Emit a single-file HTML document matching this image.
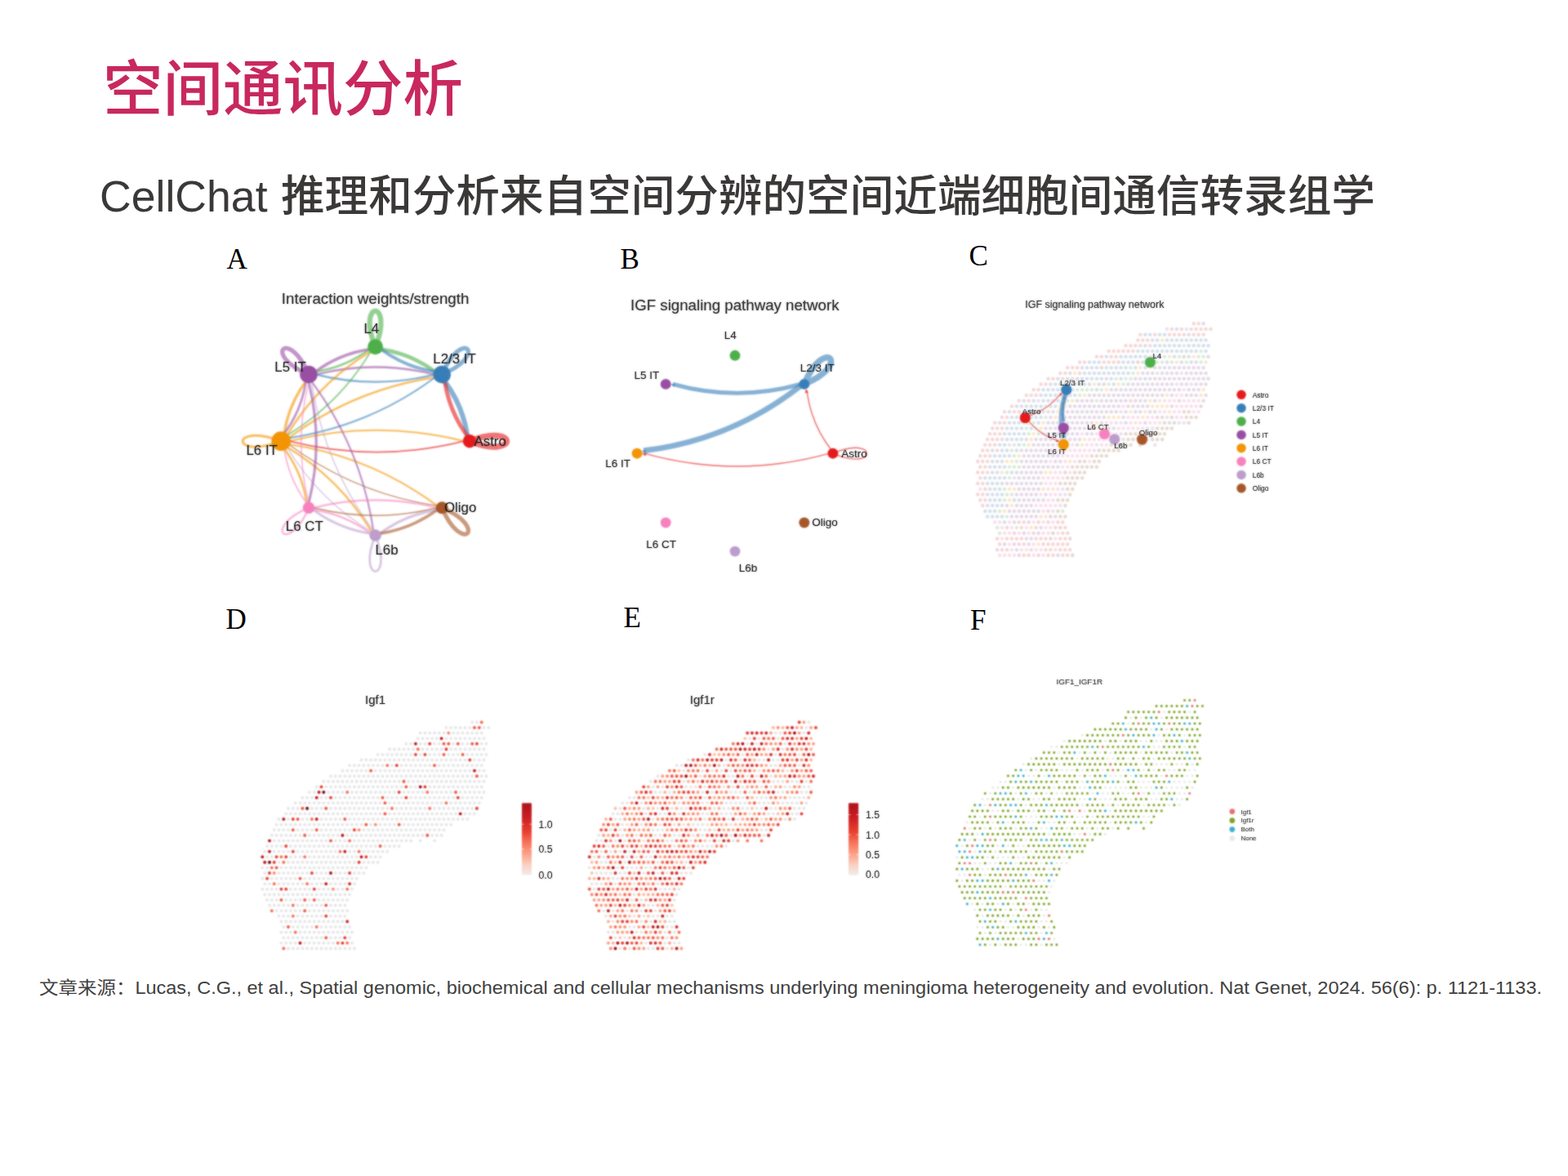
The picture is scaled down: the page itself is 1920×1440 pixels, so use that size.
<!DOCTYPE html>
<html lang="zh-CN"><head><meta charset="utf-8"><title>空间通讯分析</title>
<style>
html,body{margin:0;padding:0;background:#fff}
body{width:1920px;height:1440px;position:relative;overflow:hidden;font-family:"Liberation Sans",sans-serif}
h1,h2,footer,figure{margin:0;padding:0;font-weight:normal}
.abs{position:absolute;left:0;top:0;display:block}
.sr{position:absolute;width:1px;height:1px;margin:-1px;overflow:hidden;clip:rect(0 0 0 0);white-space:nowrap}
svg text{font-family:"Liberation Sans",sans-serif}
svg .im{filter:blur(1px)}
svg text.pl{font-family:"Liberation Serif",serif;font-size:35px;fill:#000}
</style></head>
<body>
<main>
<h1 class="t" aria-label="空间通讯分析"><span class="sr">空间通讯分析</span><svg class="abs" width="1920" height="180" viewBox="0 0 1920 180" aria-hidden="true"><text x="126" y="135" font-size="73.5" font-weight="500" fill="#c8285f" style="font-family:'Liberation Sans','Noto Sans CJK SC',sans-serif">空间通讯分析</text></svg></h1><h2 class="t" aria-label="CellChat 推理和分析来自空间分辨的空间近端细胞间通信转录组学"><span class="sr">CellChat 推理和分析来自空间分辨的空间近端细胞间通信转录组学</span><svg class="abs" style="top:180px" width="1920" height="110" viewBox="0 0 1920 110" aria-hidden="true"><g fill="#3b3838" transform="translate(0,-180)"><text y="259" font-size="53.6" font-weight="500" fill="#3b3838" style="font-family:'Liberation Sans','Noto Sans CJK SC',sans-serif"><tspan x="122">CellChat</tspan><tspan x="344">推理和分析来自空间分辨的空间近端细胞间通信转录组学</tspan></text></g></svg></h2>
<section aria-label="figures">
<figure aria-label="Interaction weights/strength"><svg class="abs" style="left:260px;top:290px" width="450" height="430" viewBox="260 290 450 430"><text class="pl" x="277.5" y="328.6">A</text><defs><g id="pA"><g fill="none" stroke-opacity=".48" stroke-linecap="round"><path d="M575 540.2C635.7 564.2 635.7 516.2 575 540.2" stroke="#E41A1C" stroke-width="7"/><path d="M541.2 458.6C599.7 434.1 565.7 400.1 541.2 458.6" stroke="#377EB8" stroke-width="5"/><path d="M459.6 424.8C483.6 366.1 435.6 366.1 459.6 424.8" stroke="#4DAF4A" stroke-width="6"/><path d="M378 458.6C353.5 400.1 319.5 434.1 378 458.6" stroke="#984EA3" stroke-width="5"/><path d="M344.2 540.2C281.5 516.2 281.5 564.2 344.2 540.2" stroke="#F29403" stroke-width="3"/><path d="M378 621.8C319.5 646.3 353.5 680.3 378 621.8" stroke="#F781BF" stroke-width="2.2"/><path d="M459.6 655.6C435.6 714.3 483.6 714.3 459.6 655.6" stroke="#BC9DCC" stroke-width="2.5"/><path d="M541.2 621.8C565.7 680.3 599.7 646.3 541.2 621.8" stroke="#A65628" stroke-width="5"/><path d="M544.6 466.9Q566.9 497 572.4 533.9" stroke="#377EB8" stroke-width="5.8"/><path d="M572.4 533.9Q550.1 503.9 544.6 466.9" stroke="#E41A1C" stroke-width="4.8"/><path d="M466.8 427.8Q503.3 433.2 532.9 455.2" stroke="#4DAF4A" stroke-width="4.4"/><path d="M532.9 455.2Q496.4 449.7 466.8 427.8" stroke="#377EB8" stroke-width="3.8"/><path d="M386.3 455.2Q415.9 433.2 452.4 427.8" stroke="#984EA3" stroke-width="3.5"/><path d="M452.4 427.8Q422.8 449.7 386.3 455.2" stroke="#4DAF4A" stroke-width="2.6"/><path d="M387 458.6Q459.6 440.5 532.2 458.6" stroke="#984EA3" stroke-width="2.37"/><path d="M532.2 458.6Q459.6 476.7 387 458.6" stroke="#377EB8" stroke-width="2.14"/><path d="M348 531.1Q353.2 495.7 374.6 466.9" stroke="#F29403" stroke-width="3.29"/><path d="M374.6 466.9Q369.3 502.3 348 531.1" stroke="#984EA3" stroke-width="2.6"/><path d="M351.2 533.2Q389.8 468.9 454.1 430.3" stroke="#F29403" stroke-width="2.48"/><path d="M454.1 430.3Q415.5 494.6 351.2 533.2" stroke="#4DAF4A" stroke-width="1.68"/><path d="M353.3 536.4Q433.8 476.8 532.9 462" stroke="#F29403" stroke-width="2.37"/><path d="M532.9 462Q452.4 521.7 353.3 536.4" stroke="#377EB8" stroke-width="2.02"/><path d="M354.1 540.2Q461.1 513.4 568.2 540.2" stroke="#F29403" stroke-width="2.02"/><path d="M568.2 540.2Q461.1 567 354.1 540.2" stroke="#E41A1C" stroke-width="1.79"/><path d="M353.3 544Q453.8 558.9 535.5 619.4" stroke="#F29403" stroke-width="2.14"/><path d="M535.5 619.4Q435 604.5 353.3 544" stroke="#A65628" stroke-width="1.22"/><path d="M351.2 547.2Q416.3 586.3 455.4 651.4" stroke="#F29403" stroke-width="2.37"/><path d="M455.4 651.4Q390.3 612.3 351.2 547.2" stroke="#BC9DCC" stroke-width="1.22"/><path d="M348 549.3Q370.2 579.3 375.7 616.3" stroke="#F29403" stroke-width="2.6"/><path d="M375.7 616.3Q353.5 586.3 348 549.3" stroke="#F781BF" stroke-width="1.68"/><path d="M378 467.6Q396.5 541.7 378 615.9" stroke="#984EA3" stroke-width="3"/><path d="M378 615.9Q359.5 541.7 378 467.6" stroke="#F781BF" stroke-width="1.45"/><path d="M381.4 466.9Q442.3 549 457.3 650.1" stroke="#984EA3" stroke-width="2.02"/><path d="M457.3 650.1Q396.5 568 381.4 466.9" stroke="#BC9DCC" stroke-width="1.22"/><path d="M383.9 621.8Q459.5 602.9 535 621.8" stroke="#F781BF" stroke-width="2.14"/><path d="M535 621.8Q459.5 640.7 383.9 621.8" stroke="#A65628" stroke-width="1.68"/><path d="M383.5 624.1Q422.5 629.9 454.1 653.3" stroke="#F781BF" stroke-width="2.14"/><path d="M454.1 653.3Q415.1 647.5 383.5 624.1" stroke="#BC9DCC" stroke-width="2.83"/><path d="M465.1 653.3Q496.6 630 535.5 624.2" stroke="#BC9DCC" stroke-width="3"/><path d="M535.5 624.2Q503.9 647.5 465.1 653.3" stroke="#A65628" stroke-width="3.5"/></g><circle cx="575" cy="540.2" r="8" fill="#E41A1C"/><circle cx="541.2" cy="458.6" r="10.6" fill="#377EB8"/><circle cx="459.6" cy="424.8" r="9.2" fill="#4DAF4A"/><circle cx="378" cy="458.6" r="10.6" fill="#984EA3"/><circle cx="344.2" cy="540.2" r="11.6" fill="#F29403"/><circle cx="378" cy="621.8" r="7" fill="#F781BF"/><circle cx="459.6" cy="655.6" r="7" fill="#BC9DCC"/><circle cx="541.2" cy="621.8" r="7.3" fill="#A65628"/></g><g id="tA"><text x="344.8" y="372.3" font-size="18.8" text-anchor="start" fill="#222">Interaction weights/strength</text><text x="445.5" y="408.2" font-size="16.85" text-anchor="start" fill="#1a1a1a">L4</text><text x="530.3" y="445.3" font-size="16.85" text-anchor="start" fill="#1a1a1a">L2/3 IT</text><text x="580.5" y="545.8" font-size="16.85" text-anchor="start" fill="#1a1a1a">Astro</text><text x="544" y="626.7" font-size="16.85" text-anchor="start" fill="#1a1a1a">Oligo</text><text x="459.5" y="678.6" font-size="16.85" text-anchor="start" fill="#1a1a1a">L6b</text><text x="349.8" y="649.8" font-size="16.85" text-anchor="start" fill="#1a1a1a">L6 CT</text><text x="301.5" y="557.4" font-size="16.85" text-anchor="start" fill="#1a1a1a">L6 IT</text><text x="336.3" y="454.7" font-size="16.85" text-anchor="start" fill="#1a1a1a">L5 IT</text></g></defs><use href="#pA" class="im"/><use href="#pA" opacity=".5"/><use href="#tA" class="im" opacity=".6"/><use href="#tA" opacity=".8"/></svg></figure>
<figure aria-label="IGF signaling pathway network (circle)"><svg class="abs" style="left:720px;top:290px" width="400" height="430" viewBox="720 290 400 430"><text class="pl" x="759.5" y="328.6">B</text><defs><g id="pB"><g fill="none" stroke-opacity=".48" stroke-linecap="butt"><path d="M984.8 470.4C1044.4 446.1 1009.1 410.8 984.8 470.4" stroke="#377EB8" stroke-width="7.4"/><path d="M1019.9 555.2C1075.2 579.2 1075.2 531.2 1019.9 555.2" stroke="#E41A1C" stroke-width="1.4"/><path d="M980.4 470.4Q902.2 492.3 823.9 470.4" stroke="#377EB8" stroke-width="4.8"/><path d="M980.8 472.1Q895.6 538.9 788.1 551.9" stroke="#377EB8" stroke-width="6.6"/><path d="M1018.2 551.2Q993 519 988.1 478.5" stroke="#E41A1C" stroke-width="1.4"/><path d="M1015.6 555.2Q902.2 586.9 788.8 555.2" stroke="#E41A1C" stroke-width="1.4"/></g><path d="M821.1 470.4L826.6 469.9L825.5 473.6Z" fill="#377EB8" fill-opacity="0.6"/><path d="M785.6 552.9L790.4 550.4L790.9 554.2Z" fill="#377EB8" fill-opacity="0.6"/><path d="M987 475.9L989.6 480.7L985.7 481.2Z" fill="#E41A1C" fill-opacity="0.6"/><path d="M786 555.2L791.4 554.7L790.4 558.4Z" fill="#E41A1C" fill-opacity="0.6"/><circle cx="1019.9" cy="555.2" r="6.2" fill="#E41A1C"/><circle cx="984.8" cy="470.4" r="6.2" fill="#377EB8"/><circle cx="900" cy="435.3" r="6.2" fill="#4DAF4A"/><circle cx="815.2" cy="470.4" r="6.2" fill="#984EA3"/><circle cx="780.1" cy="555.2" r="6.2" fill="#F29403"/><circle cx="815.2" cy="640" r="6.2" fill="#F781BF"/><circle cx="900" cy="675.1" r="6.2" fill="#BC9DCC"/><circle cx="984.8" cy="640" r="6.2" fill="#A65628"/></g><g id="tB"><text x="772" y="379.6" font-size="18.7" text-anchor="start" fill="#222">IGF signaling pathway network</text><text x="886.8" y="415.4" font-size="13.5" text-anchor="start" fill="#1a1a1a">L4</text><text x="979.8" y="455" font-size="13.5" text-anchor="start" fill="#1a1a1a">L2/3 IT</text><text x="776.4" y="464" font-size="13.5" text-anchor="start" fill="#1a1a1a">L5 IT</text><text x="741.2" y="571.5" font-size="13.5" text-anchor="start" fill="#1a1a1a">L6 IT</text><text x="1030.2" y="560" font-size="13.5" text-anchor="start" fill="#1a1a1a">Astro</text><text x="994.2" y="644.3" font-size="13.5" text-anchor="start" fill="#1a1a1a">Oligo</text><text x="791.3" y="670.6" font-size="13.5" text-anchor="start" fill="#1a1a1a">L6 CT</text><text x="904.7" y="700.4" font-size="13.5" text-anchor="start" fill="#1a1a1a">L6b</text></g></defs><use href="#pB" class="im"/><use href="#pB" opacity=".5"/><use href="#tB" class="im" opacity=".6"/><use href="#tB" opacity=".8"/></svg></figure>
<figure aria-label="IGF signaling pathway network (spatial)"><svg class="abs" style="left:1160px;top:290px" width="460" height="430" viewBox="1160 290 460 430"><text class="pl" x="1186.5" y="324.9">C</text><defs><g id="pC"><g fill="none" stroke-linecap="round" stroke-width="4.1"><path d="M1461.7 396.2h0m5.9 0h0m-32.7 6.8h0m11.9 0h0m11.9 0h0m5.9 0h0m6 0h0m5.9 0h0m6 0h0m-86.2 6.7h0m17.9 0h0m17.8 0h0m5.9 0h0m6 0h0m5.9 0h0m11.9 0h0m5.9 0h0m6 0h0m-80.2 6.8h0m5.9 0h0m5.9 0h0m-26.7 6.7h0m6 0h0m5.9 0h0m5.9 0h0m11.9 0h0m-50.5 6.8h0m6 0h0m5.9 0h0m5.9 0h0m6 0h0m5.9 0h0m-44.5 6.7h0m5.9 0h0m11.9 0h0m5.9 0h0m-44.5 6.8h0m5.9 0h0m23.8 0h0m5.9 0h0m6 0h0m-56.5 6.7h0m6 0h0m5.9 0h0m-20.8 6.8h0m6 0h0m17.8 0h0m-38.6 6.8h0m5.9 0h0m11.9 0h0m11.9 0h0m148.5 0h0m-187.1 6.7h0m5.9 0h0m-14.8 6.8h0m5.9 0h0m-14.8 6.7h0m5.9 0h0m5.9 0h0m-20.8 6.8h0m11.9 0h0m124.8 0h0m-145.6 6.7h0m-8.9 6.8h0m11.9 0h0m5.9 0h0m35.7 0h0m-56.5 6.7h0m6 0h0m-14.9 6.8h0m11.9 0h0m106.9 0h0m-121.7 6.7h0m5.9 0h0m5.9 0h0m-14.8 6.8h0m5.9 0h0m6 0h0m-14.9 6.8h0m6 0h0m5.9 0h0m5.9 0h0m-20.7 6.7h0m5.9 0h0m5.9 0h0m-14.8 6.8h0m5.9 0h0m11.9 0h0m-20.8 6.7h0m6 0h0m5.9 0h0m-14.9 6.8h0m6 0h0m5.9 0h0m-8.9 6.7h0m6 0h0m-9 6.8h0m6 0h0m5.9 0h0m-8.9 6.7h0m-3 6.8h0m6 0h0m3 6.8h0m-9 6.7h0m6 0h0m-3 6.8h0m6 0h0m-3 6.7h0m80.2 6.8h0m-35.7 13.5h0m6 0h0m17.8 0h0m11.9 0h0m11.9 0h0m5.9 0h0m-68.3 6.7h0m17.8 0h0m17.8 0h0m23.8 0h0m11.9 0h0m-62.4 6.8h0m23.8 0h0m35.6 0h0m5.9 0h0m-86.1 6.7h0m11.9 0h0m5.9 0h0m6 0h0m5.9 0h0m17.8 0h0m6 0h0m5.9 0h0m17.8 0h0m6 0h0m-80.2 6.8h0m23.7 0h0m6 0h0m23.7 0h0m6 0h0m5.9 0h0m6 0h0m5.9 0h0m5.9 0h0m-80.2 6.8h0m6 0h0m29.7 0h0m17.8 0h0m5.9 0h0m11.9 0h0m6 0h0m5.9 0h0m-56.4 6.7h0m5.9 0h0m11.9 0h0m11.9 0h0m5.9 0h0m11.9 0h0m5.9 0h0" stroke="#F6D5D5"/><path d="M1440.9 403h0m-38.6 6.7h0m5.9 0h0m11.9 0h0m5.9 0h0m29.7 0h0m-44.5 6.8h0m5.9 0h0m11.9 0h0m5.9 0h0m6 0h0m5.9 0h0m6 0h0m5.9 0h0m5.9 0h0m6 0h0m5.9 0h0m-74.2 6.7h0m11.9 0h0m5.9 0h0m5.9 0h0m6 0h0m5.9 0h0m6 0h0m11.8 0h0m6 0h0m5.9 0h0m6 0h0m5.9 0h0m-86.1 6.8h0m5.9 0h0m5.9 0h0m6 0h0m5.9 0h0m6 0h0m5.9 0h0m5.9 0h0m6 0h0m5.9 0h0m6 0h0m5.9 0h0m5.9 0h0m11.9 0h0m-121.7 6.7h0m17.8 0h0m5.9 0h0m6 0h0m5.9 0h0m5.9 0h0m6 0h0m11.9 0h0m5.9 0h0m17.8 0h0m17.8 0h0m-121.7 6.8h0m5.9 0h0m5.9 0h0m29.7 0h0m6 0h0m5.9 0h0m11.9 0h0m5.9 0h0m6 0h0m17.8 0h0m17.8 0h0m11.9 0h0m-133.6 6.7h0m5.9 0h0m5.9 0h0m6 0h0m11.9 0h0m5.9 0h0m5.9 0h0m6 0h0m5.9 0h0m11.9 0h0m11.9 0h0m-92.1 6.8h0m17.8 0h0m6 0h0m5.9 0h0m5.9 0h0m6 0h0m5.9 0h0m6 0h0m5.9 0h0m5.9 0h0m6 0h0m-86.1 6.8h0m11.8 0h0m11.9 0h0m6 0h0m5.9 0h0m5.9 0h0m6 0h0m5.9 0h0m11.9 0h0m11.9 0h0m29.7 0h0m-115.9 6.7h0m6 0h0m5.9 0h0m6 0h0m5.9 0h0m5.9 0h0m6 0h0m5.9 0h0m6 0h0m11.8 0h0m17.9 0h0m-86.2 6.8h0m6 0h0m5.9 0h0m6 0h0m5.9 0h0m5.9 0h0m6 0h0m29.7 0h0m-68.3 6.7h0m5.9 0h0m5.9 0h0m6 0h0m5.9 0h0m17.8 0h0m-62.3 6.8h0m11.9 0h0m11.8 0h0m6 0h0m11.9 0h0m-50.5 6.7h0m11.9 0h0m5.9 0h0m5.9 0h0m6 0h0m11.8 0h0m6 0h0m-56.4 6.8h0m17.8 0h0m5.9 0h0m11.9 0h0m5.9 0h0m11.9 0h0m11.9 0h0m-62.4 6.7h0m6 0h0m5.9 0h0m6 0h0m5.9 0h0m5.9 0h0m6 0h0m-50.5 6.8h0m11.9 0h0m5.9 0h0m5.9 0h0m23.8 0h0m23.8 0h0m29.7 0h0m53.4 0h0m53.5 0h0m-199 6.7h0m5.9 0h0m6 0h0m5.9 0h0m11.9 0h0m-32.7 6.8h0m6 0h0m5.9 0h0m5.9 0h0m6 0h0m-20.8 6.8h0m5.9 0h0m6 0h0m5.9 0h0m-26.7 6.7h0m5.9 0h0m17.8 0h0m-32.6 6.8h0m11.8 0h0m6 0h0m11.9 0h0m-26.8 6.7h0m6 0h0m5.9 0h0m6 0h0m-20.8 6.8h0m5.9 0h0m5.9 0h0m-14.8 6.7h0m5.9 0h0m6 0h0m5.9 0h0m-14.8 6.8h0m5.9 0h0m17.8 0h0m-32.6 6.7h0m5.9 0h0m5.9 0h0m6 0h0m5.9 0h0m-20.8 6.8h0m6 0h0m5.9 0h0m5.9 0h0m-14.8 6.8h0m5.9 0h0m6 0h0m-14.9 6.7h0m6 0h0m5.9 0h0m5.9 0h0m-14.8 6.8h0m5.9 0h0m6 0h0m17.8 0h0m-32.7 6.7h0m6 0h0m5.9 0h0m5.9 0h0m-20.7 6.8h0m5.9 0h0m5.9 0h0m53.5 0h0m-62.4 6.7h0m6 0h0m5.9 0h0m5.9 0h0m3 6.8h0" stroke="#D4DFEA"/><path d="M1470.6 430h0m-44.6 6.7h0m17.9 0h0m23.7 0h0m6 0h0m-56.5 6.8h0m6 0h0m11.8 0h0m17.9 0h0m17.8 0h0m-86.1 6.7h0m2.9 6.8h0m29.7 0h0m-50.5 6.8h0m11.9 0h0m6 0h0m-26.8 6.7h0m17.8 0h0m-56.4 6.8h0m6 0h0m5.9 0h0m5.9 0h0m11.9 0h0m-44.5 6.7h0m17.8 0h0m-14.9 6.8h0m35.7 0h0m-62.4 6.7h0m-14.8 6.8h0m14.8 6.7h0m-26.7 6.8h0m11.9 0h0m-8.9 6.7h0m11.8 0h0m-8.9 6.8h0m11.9 0h0m-29.7 13.5h0m11.9 0h0m124.7 0h0m-139.6 6.8h0m3 6.7h0m3 6.8h0m-8.9 6.7h0m5.9 0h0m5.9 0h0m-14.8 6.8h0m3 6.7h0m-6 13.6h0m3 6.7h0m5.9 0h0m-8.9 6.8h0m-5.9 13.5h0m77.2 0h0m-68.3 6.7h0m-11.9 13.5h0m23.8 0h0m-20.8 6.8h0" stroke="#D8ECD7"/><path d="M1473.6 396.2h0m5.9 40.5h0m-14.9 6.8h0m-50.4 6.7h0m5.9 0h0m5.9 0h0m6 0h0m5.9 0h0m6 0h0m5.9 0h0m5.9 0h0m6 0h0m5.9 0h0m6 0h0m-74.3 6.8h0m5.9 0h0m6 0h0m11.9 0h0m5.9 0h0m5.9 0h0m6 0h0m11.9 0h0m5.9 0h0m5.9 0h0m6 0h0m5.9 0h0m-121.7 6.8h0m35.6 0h0m5.9 0h0m11.9 0h0m6 0h0m5.9 0h0m5.9 0h0m6 0h0m5.9 0h0m6 0h0m5.9 0h0m5.9 0h0m11.9 0h0m6 0h0m5.9 0h0m-98 6.7h0m5.9 0h0m6 0h0m5.9 0h0m5.9 0h0m6 0h0m5.9 0h0m6 0h0m5.9 0h0m5.9 0h0m11.9 0h0m6 0h0m11.8 0h0m6 0h0m5.9 0h0m-115.8 6.8h0m5.9 0h0m6 0h0m5.9 0h0m6 0h0m5.9 0h0m5.9 0h0m6 0h0m5.9 0h0m6 0h0m5.9 0h0m5.9 0h0m6 0h0m5.9 0h0m6 0h0m11.8 0h0m6 0h0m5.9 0h0m-157.4 6.7h0m23.8 0h0m5.9 0h0m5.9 0h0m6 0h0m5.9 0h0m6 0h0m5.9 0h0m5.9 0h0m6 0h0m5.9 0h0m6 0h0m5.9 0h0m5.9 0h0m6 0h0m5.9 0h0m6 0h0m11.8 0h0m17.9 0h0m5.9 0h0m5.9 0h0m11.9 0h0m-187.1 6.8h0m29.7 0h0m6 0h0m5.9 0h0m5.9 0h0m11.9 0h0m6 0h0m5.9 0h0m5.9 0h0m6 0h0m5.9 0h0m11.9 0h0m5.9 0h0m6 0h0m11.9 0h0m29.7 0h0m29.7 0h0m-222.8 6.7h0m59.4 0h0m5.9 0h0m6 0h0m5.9 0h0m6 0h0m5.9 0h0m5.9 0h0m6 0h0m5.9 0h0m6 0h0m5.9 0h0m11.9 0h0m5.9 0h0m6 0h0m5.9 0h0m5.9 0h0m29.7 0h0m-127.7 6.8h0m6 0h0m5.9 0h0m6 0h0m5.9 0h0m5.9 0h0m6 0h0m5.9 0h0m6 0h0m5.9 0h0m5.9 0h0m11.9 0h0m11.9 0h0m5.9 0h0m11.9 0h0m6 0h0m-127.8 6.7h0m11.9 0h0m6 0h0m5.9 0h0m5.9 0h0m6 0h0m5.9 0h0m6 0h0m5.9 0h0m5.9 0h0m6 0h0m23.7 0h0m41.6 0h0m-133.6 6.8h0m5.9 0h0m11.9 0h0m5.9 0h0m6 0h0m5.9 0h0m11.9 0h0m17.8 0h0m53.5 0h0m-121.8 6.7h0m5.9 0h0m6 0h0m5.9 0h0m6 0h0m5.9 0h0m5.9 0h0m6 0h0m5.9 0h0m6 0h0m23.7 0h0m6 0h0m-86.2 6.8h0m6 0h0m11.9 0h0m5.9 0h0m5.9 0h0m6 0h0m5.9 0h0m11.9 0h0m5.9 0h0m-80.1 6.8h0m11.8 0h0m6 0h0m5.9 0h0m5.9 0h0m6 0h0m5.9 0h0m6 0h0m5.9 0h0m5.9 0h0m6 0h0m-56.4 6.7h0m5.9 0h0m5.9 0h0m6 0h0m5.9 0h0m6 0h0m23.7 0h0m-68.3 6.8h0m6 0h0m5.9 0h0m5.9 0h0m6 0h0m5.9 0h0m5.9 0h0m-32.6 6.7h0m5.9 0h0m6 0h0m5.9 0h0m5.9 0h0m6 0h0m5.9 0h0m6 0h0m-44.6 6.8h0m6 0h0m5.9 0h0m5.9 0h0m6 0h0m5.9 0h0m11.9 0h0m5.9 0h0m-44.5 6.7h0m5.9 0h0m6 0h0m5.9 0h0m5.9 0h0m6 0h0m5.9 0h0m6 0h0m-50.5 6.8h0m5.9 0h0m6 0h0m5.9 0h0m5.9 0h0m6 0h0m-26.8 6.7h0m6 0h0m5.9 0h0m6 0h0m5.9 0h0m-38.6 6.8h0m5.9 0h0m6 0h0m5.9 0h0m6 0h0m5.9 0h0m5.9 0h0m6 0h0m-26.8 6.8h0m6 0h0m5.9 0h0m6 0h0m5.9 0h0m-26.7 6.7h0m5.9 0h0m6 0h0m5.9 0h0m5.9 0h0m11.9 0h0m-32.7 6.8h0m6 0h0m5.9 0h0m6 0h0m5.9 0h0m5.9 0h0m-44.5 6.7h0m11.9 0h0m5.9 0h0m6 0h0m5.9 0h0m-26.7 6.8h0m5.9 0h0m5.9 0h0m6 0h0m5.9 0h0m6 0h0m-26.8 6.7h0m6 0h0m5.9 0h0m6 0h0m5.9 0h0m5.9 0h0m23.8 0h0m-50.5 6.8h0m17.8 0h0m14.9 6.7h0m-20.8 6.8h0m17.8 0h0m-14.8 6.7h0m5.9 0h0m-32.7 6.8h0m11.9 0h0m17.8 0h0m-38.6 6.8h0m23.8 0h0m2.9 6.7h0m47.6 0h0" stroke="#E4D8E7"/><path d="M1423.1 416.5h0m8.9 20.2h0m29.7 0h0m-20.8 6.8h0m35.6 0h0m-80.2 6.7h0m11.9 0h0m-92.1 6.8h0m77.3 0h0m-53.5 13.5h0m29.7 0h0m-14.8 6.8h0m118.8 0h0m-145.6 6.7h0m101 0h0m41.6 0h0m-169.3 6.8h0m11.9 0h0m95 0h0m11.9 0h0m-121.8 6.7h0m6 0h0m106.9 0h0m5.9 0h0m6 0h0m5.9 0h0m-133.6 6.8h0m89.1 0h0m17.8 0h0m29.7 0h0m-139.6 6.7h0m65.3 0h0m6 0h0m5.9 0h0m29.7 0h0m-139.6 6.8h0m17.8 0h0m65.4 0h0m47.5 0h0m-115.8 6.7h0m71.2 0h0m6 0h0m-86.1 6.8h0m-3 6.8h0m65.3 0h0m-68.3 6.7h0m65.4 0h0m-20.8 6.8h0m-56.5 6.7h0m-14.8 6.8h0m5.9 0h0m71.3 0h0m-83.2 13.5h0m53.5 0h0m5.9 0h0m-50.4 20.3h0m5.9 0h0m35.6 0h0m11.9 0h0m-53.4 13.5h0m2.9 6.7h0m-8.9 6.8h0m44.6 6.7h0m-11.9 13.5h0m8.9 20.3h0" stroke="#FBE7C9"/><path d="M1408.2 436.7h0m41.6 40.6h0m-8.9 6.7h0m5.9 0h0m-20.8 6.8h0m6 0h0m5.9 0h0m11.9 0h0m5.9 0h0m6 0h0m5.9 0h0m-92.1 6.7h0m65.4 0h0m5.9 0h0m6 0h0m5.9 0h0m5.9 0h0m-44.5 6.8h0m5.9 0h0m11.9 0h0m6 0h0m17.8 0h0m5.9 0h0m-86.1 6.7h0m5.9 0h0m6 0h0m11.8 0h0m6 0h0m35.6 0h0m-92 6.8h0m5.9 0h0m11.9 0h0m11.9 0h0m11.8 0h0m11.9 0h0m6 0h0m5.9 0h0m-80.2 6.7h0m29.7 0h0m5.9 0h0m6 0h0m5.9 0h0m6 0h0m5.9 0h0m-74.2 6.8h0m17.8 0h0m5.9 0h0m6 0h0m5.9 0h0m5.9 0h0m35.7 0h0m-68.3 6.8h0m5.9 0h0m5.9 0h0m6 0h0m5.9 0h0m-56.4 6.7h0m5.9 0h0m6 0h0m17.8 0h0m5.9 0h0m11.9 0h0m6 0h0m-62.4 6.8h0m5.9 0h0m11.9 0h0m5.9 0h0m6 0h0m5.9 0h0m6 0h0m-32.7 6.7h0m5.9 0h0m6 0h0m5.9 0h0m6 0h0m5.9 0h0m-44.6 6.8h0m17.9 0h0m11.8 0h0m17.9 0h0m-32.7 6.7h0m5.9 0h0m-14.8 6.8h0m5.9 0h0m11.9 0h0m-32.7 6.7h0m6 0h0m5.9 0h0m6 0h0m5.9 0h0m-20.8 6.8h0m5.9 0h0m6 0h0m-92.1 6.8h0m83.2 0h0m11.9 0h0m-20.8 6.7h0m11.8 0h0m6 0h0m-8.9 6.8h0m5.9 0h0m-20.8 6.7h0m6 0h0m5.9 0h0m5.9 0h0m6 0h0m-14.9 6.8h0m3 6.7h0m-62.4 6.8h0m6 0h0m11.9 0h0m29.7 0h0m11.8 0h0m11.9 0h0m-62.4 6.7h0m11.9 0h0m17.9 0h0m23.7 0h0m5.9 0h0m-56.4 6.8h0m6 0h0m11.8 0h0m11.9 0h0m17.8 0h0m6 0h0m11.9 0h0m-68.4 6.7h0m65.4 0h0m-56.4 6.8h0m29.7 0h0m-26.8 6.8h0m11.9 0h0m6 0h0m11.8 0h0m6 0h0m17.8 0h0m-68.3 6.7h0m5.9 0h0m6 0h0m5.9 0h0m23.8 0h0m11.8 0h0" stroke="#FBDFED"/><path d="M1429 403h0m23.8 0h0m-3 20.2h0m-3 33.8h0m-5.9 13.5h0m17.8 0h0m-187.1 20.3h0m101 13.5h0m56.4 6.7h0m11.9 0h0m-74.3 6.8h0m77.3 0h0m5.9 0h0m-44.6 6.7h0m6 0h0m-121.8 6.8h0m83.2 0h0m-3 6.8h0m5.9 0h0m29.7 0h0m-169.2 6.7h0m106.9 0h0m71.3 0h0m-74.3 6.8h0m-98 33.7h0m59.4 13.6h0m-3 6.7h0m6 0h0m-6 13.5h0m-8.9 6.8h0" stroke="#EAE1F0"/><path d="M1449.8 436.7h0m-80.2 6.8h0m23.8 0h0m-44.6 6.7h0m3 20.3h0m118.8 27h0m-20.8 6.8h0m5.9 0h0m-32.6 6.7h0m11.8 0h0m17.9 0h0m5.9 0h0m5.9 0h0m-38.6 6.8h0m11.9 0h0m17.8 0h0m-38.6 6.7h0m6 0h0m5.9 0h0m5.9 0h0m-56.4 6.8h0m6 0h0m5.9 0h0m5.9 0h0m11.9 0h0m6 0h0m5.9 0h0m5.9 0h0m-62.3 6.8h0m17.8 0h0m5.9 0h0m6 0h0m5.9 0h0m11.9 0h0m5.9 0h0m6 0h0m-62.4 6.7h0m5.9 0h0m6 0h0m11.9 0h0m11.8 0h0m-50.5 6.8h0m6 0h0m5.9 0h0m6 0h0m5.9 0h0m-32.7 6.7h0m6 0h0m5.9 0h0m6 0h0m-32.7 6.8h0m5.9 0h0m11.9 0h0m5.9 0h0m-32.6 6.7h0m5.9 0h0m6 0h0m5.9 0h0m5.9 0h0m6 0h0m-38.6 6.8h0m11.8 0h0m6 0h0m5.9 0h0m-20.8 6.7h0m6 0h0m5.9 0h0m6 0h0m-26.8 6.8h0m6 0h0m5.9 0h0m5.9 0h0m-8.9 6.8h0m6 0h0m-3 6.7h0m-14.8 6.8h0m5.9 0h0m5.9 0h0m-2.9 6.7h0m-8.9 6.8h0m-9 6.7h0m11.9 0h0m6 0h0m-6 13.5h0m-8.9 6.8h0m-3 6.7h0m23.8 0h0m3 20.3h0" stroke="#E5D8CF"/></g><g fill="none" stroke-opacity=".5"><path d="M1305.6 480.2Q1295.2 507.8 1302.7 536.3" stroke="#377EB8" stroke-width="5.6"/><path d="M1305.6 480.2Q1298.5 497.8 1302.9 516.2" stroke="#377EB8" stroke-width="3"/><path d="M1257.8 509.9Q1283 502.4 1299.3 481.6" stroke="#E41A1C" stroke-width="1.2"/><path d="M1257.8 513.3Q1272.6 532.6 1295.8 539.7" stroke="#E41A1C" stroke-width="1.2"/></g><path d="M1300.8 480.6L1299.5 484.8L1297.1 482.9Z" fill="#E41A1C" fill-opacity="0.65"/><path d="M1297.4 540.8L1292.9 541.1L1293.8 538.1Z" fill="#E41A1C" fill-opacity="0.65"/><circle cx="1408.4" cy="443.6" r="6.4" fill="#4DAF4A"/><circle cx="1305.8" cy="477.2" r="6.4" fill="#377EB8"/><circle cx="1255.3" cy="511.6" r="6.4" fill="#E41A1C"/><circle cx="1302.3" cy="544.2" r="6.4" fill="#F29403"/><circle cx="1302.3" cy="524.1" r="6.4" fill="#984EA3"/><circle cx="1352.4" cy="531.4" r="6.4" fill="#F781BF"/><circle cx="1364.7" cy="537.8" r="6.4" fill="#BC9DCC"/><circle cx="1398.5" cy="538.1" r="6.4" fill="#A65628"/><circle cx="1520" cy="483.3" r="5.5" fill="#E41A1C"/><circle cx="1520" cy="499.7" r="5.5" fill="#377EB8"/><circle cx="1520" cy="516" r="5.5" fill="#4DAF4A"/><circle cx="1520" cy="532.4" r="5.5" fill="#984EA3"/><circle cx="1520" cy="548.7" r="5.5" fill="#F29403"/><circle cx="1520" cy="565" r="5.5" fill="#F781BF"/><circle cx="1520" cy="581.4" r="5.5" fill="#BC9DCC"/><circle cx="1520" cy="597.8" r="5.5" fill="#A65628"/></g><g id="tC"><text x="1255.3" y="376.9" font-size="12.45" text-anchor="start" fill="#222">IGF signaling pathway network</text><text x="1411.4" y="438.7" font-size="9.7" text-anchor="start" fill="#1a1a1a">L4</text><text x="1298.1" y="472.2" font-size="9.7" text-anchor="start" fill="#1a1a1a">L2/3 IT</text><text x="1251.8" y="506.6" font-size="9.7" text-anchor="start" fill="#1a1a1a">Astro</text><text x="1283.1" y="535.5" font-size="9.7" text-anchor="start" fill="#1a1a1a">L5 IT</text><text x="1283.1" y="555.6" font-size="9.7" text-anchor="start" fill="#1a1a1a">L6 IT</text><text x="1331.2" y="526.2" font-size="9.7" text-anchor="start" fill="#1a1a1a">L6 CT</text><text x="1364.2" y="548.9" font-size="9.7" text-anchor="start" fill="#1a1a1a">L6b</text><text x="1394.7" y="533.4" font-size="9.7" text-anchor="start" fill="#1a1a1a">Oligo</text><text x="1533.8" y="486.5" font-size="8.35" text-anchor="start" fill="#222">Astro</text><text x="1533.8" y="502.9" font-size="8.35" text-anchor="start" fill="#222">L2/3 IT</text><text x="1533.8" y="519.2" font-size="8.35" text-anchor="start" fill="#222">L4</text><text x="1533.8" y="535.6" font-size="8.35" text-anchor="start" fill="#222">L5 IT</text><text x="1533.8" y="551.9" font-size="8.35" text-anchor="start" fill="#222">L6 IT</text><text x="1533.8" y="568.2" font-size="8.35" text-anchor="start" fill="#222">L6 CT</text><text x="1533.8" y="584.6" font-size="8.35" text-anchor="start" fill="#222">L6b</text><text x="1533.8" y="601" font-size="8.35" text-anchor="start" fill="#222">Oligo</text></g></defs><use href="#pC" class="im"/><use href="#pC" opacity=".5"/><use href="#tC" class="im" opacity=".6"/><use href="#tC" opacity=".8"/></svg></figure>
<figure aria-label="Igf1 expression"><svg class="abs" style="left:260px;top:730px" width="440" height="460" viewBox="260 730 440 460"><text class="pl" x="276.5" y="770.2">D</text><defs><g id="pD"><g fill="none" stroke-linecap="round" stroke-width="3.6"><path d="M578.2 884.4h0m5.7 0h0m-37.5 6.6h0m5.8 0h0m5.8 0h0m5.7 0h0m5.8 0h0m5.8 0h0m17.3 0h0m5.8 0h0m-83.7 6.6h0m5.7 0h0m5.8 0h0m5.8 0h0m5.8 0h0m5.7 0h0m11.6 0h0m5.7 0h0m5.8 0h0m5.8 0h0m5.8 0h0m5.7 0h0m5.8 0h0m-77.9 6.6h0m5.7 0h0m5.8 0h0m5.8 0h0m5.8 0h0m11.5 0h0m5.8 0h0m5.8 0h0m5.7 0h0m5.8 0h0m5.8 0h0m5.7 0h0m5.8 0h0m5.8 0h0m-95.3 6.6h0m5.8 0h0m11.6 0h0m5.7 0h0m11.6 0h0m5.8 0h0m17.3 0h0m11.5 0h0m5.8 0h0m17.3 0h0m5.8 0h0m-118.4 6.6h0m5.8 0h0m5.8 0h0m5.8 0h0m5.7 0h0m5.8 0h0m11.5 0h0m5.8 0h0m5.8 0h0m5.8 0h0m5.7 0h0m11.6 0h0m5.8 0h0m5.7 0h0m5.8 0h0m5.8 0h0m5.7 0h0m5.8 0h0m5.8 0h0m-129.9 6.6h0m5.8 0h0m5.8 0h0m5.7 0h0m5.8 0h0m5.8 0h0m5.7 0h0m5.8 0h0m11.6 0h0m11.5 0h0m5.8 0h0m5.8 0h0m11.5 0h0m5.8 0h0m5.7 0h0m11.6 0h0m5.8 0h0m5.7 0h0m5.8 0h0m5.8 0h0m-153 6.6h0m5.8 0h0m5.8 0h0m5.7 0h0m5.8 0h0m5.8 0h0m5.7 0h0m5.8 0h0m5.8 0h0m5.8 0h0m5.7 0h0m5.8 0h0m5.8 0h0m5.7 0h0m5.8 0h0m5.8 0h0m5.8 0h0m5.7 0h0m5.8 0h0m5.8 0h0m5.8 0h0m5.7 0h0m5.8 0h0m11.5 0h0m5.8 0h0m5.8 0h0m-164.5 6.6h0m5.8 0h0m5.7 0h0m5.8 0h0m5.8 0h0m5.7 0h0m5.8 0h0m5.8 0h0m11.5 0h0m11.6 0h0m5.7 0h0m5.8 0h0m5.8 0h0m5.8 0h0m5.7 0h0m5.8 0h0m11.6 0h0m5.7 0h0m5.8 0h0m5.8 0h0m5.7 0h0m5.8 0h0m5.8 0h0m5.8 0h0m5.7 0h0m5.8 0h0m-170.3 6.6h0m5.8 0h0m5.8 0h0m5.7 0h0m5.8 0h0m5.8 0h0m11.5 0h0m5.8 0h0m5.8 0h0m5.7 0h0m5.8 0h0m5.8 0h0m5.8 0h0m5.7 0h0m5.8 0h0m5.8 0h0m5.7 0h0m5.8 0h0m5.8 0h0m5.8 0h0m5.7 0h0m5.8 0h0m5.8 0h0m5.8 0h0m5.7 0h0m5.8 0h0m5.8 0h0m11.5 0h0m5.8 0h0m-187.6 6.6h0m5.8 0h0m5.7 0h0m5.8 0h0m5.8 0h0m5.8 0h0m5.7 0h0m5.8 0h0m5.8 0h0m5.7 0h0m5.8 0h0m5.8 0h0m5.8 0h0m5.7 0h0m5.8 0h0m5.8 0h0m5.7 0h0m5.8 0h0m5.8 0h0m5.8 0h0m5.7 0h0m5.8 0h0m5.8 0h0m5.8 0h0m5.7 0h0m5.8 0h0m5.8 0h0m5.7 0h0m5.8 0h0m5.8 0h0m5.8 0h0m11.5 0h0m5.8 0h0m-199.2 6.5h0m5.8 0h0m5.8 0h0m5.8 0h0m5.7 0h0m5.8 0h0m5.8 0h0m5.7 0h0m5.8 0h0m5.8 0h0m5.8 0h0m5.7 0h0m5.8 0h0m5.8 0h0m5.7 0h0m5.8 0h0m5.8 0h0m11.5 0h0m5.8 0h0m5.8 0h0m5.7 0h0m5.8 0h0m5.8 0h0m5.8 0h0m5.7 0h0m5.8 0h0m5.8 0h0m5.8 0h0m5.7 0h0m5.8 0h0m5.8 0h0m5.7 0h0m5.8 0h0m5.8 0h0m-204.9 6.6h0m11.5 0h0m5.8 0h0m5.8 0h0m5.7 0h0m5.8 0h0m5.8 0h0m5.8 0h0m5.7 0h0m5.8 0h0m5.8 0h0m5.7 0h0m5.8 0h0m5.8 0h0m5.8 0h0m5.7 0h0m5.8 0h0m5.8 0h0m11.5 0h0m5.8 0h0m17.3 0h0m5.8 0h0m5.8 0h0m5.7 0h0m5.8 0h0m5.8 0h0m5.7 0h0m5.8 0h0m5.8 0h0m5.8 0h0m5.7 0h0m5.8 0h0m-210.7 6.6h0m5.8 0h0m17.3 0h0m5.8 0h0m5.8 0h0m5.7 0h0m11.6 0h0m5.7 0h0m5.8 0h0m5.8 0h0m5.8 0h0m5.7 0h0m5.8 0h0m5.8 0h0m5.7 0h0m5.8 0h0m11.6 0h0m5.7 0h0m5.8 0h0m5.8 0h0m5.7 0h0m11.6 0h0m5.8 0h0m5.7 0h0m5.8 0h0m5.8 0h0m11.5 0h0m5.8 0h0m5.8 0h0m5.7 0h0m5.8 0h0m5.8 0h0m-222.2 6.6h0m5.7 0h0m5.8 0h0m11.6 0h0m5.7 0h0m11.6 0h0m5.7 0h0m5.8 0h0m5.8 0h0m5.8 0h0m5.7 0h0m5.8 0h0m5.8 0h0m5.7 0h0m5.8 0h0m11.6 0h0m5.7 0h0m5.8 0h0m5.8 0h0m11.5 0h0m5.8 0h0m5.8 0h0m5.7 0h0m5.8 0h0m5.8 0h0m5.8 0h0m5.7 0h0m5.8 0h0m5.8 0h0m11.5 0h0m5.8 0h0m5.8 0h0m5.7 0h0m5.8 0h0m-228 6.6h0m5.8 0h0m5.7 0h0m5.8 0h0m5.8 0h0m5.8 0h0m5.7 0h0m5.8 0h0m5.8 0h0m5.8 0h0m5.7 0h0m5.8 0h0m5.8 0h0m5.7 0h0m5.8 0h0m5.8 0h0m5.8 0h0m5.7 0h0m5.8 0h0m11.5 0h0m5.8 0h0m5.8 0h0m5.8 0h0m5.7 0h0m5.8 0h0m5.8 0h0m5.7 0h0m5.8 0h0m5.8 0h0m5.8 0h0m5.7 0h0m11.6 0h0m5.8 0h0m5.7 0h0m5.8 0h0m5.8 0h0m5.7 0h0m5.8 0h0m-233.8 6.6h0m5.8 0h0m5.8 0h0m17.3 0h0m5.8 0h0m5.8 0h0m11.5 0h0m5.8 0h0m5.7 0h0m5.8 0h0m5.8 0h0m5.8 0h0m5.7 0h0m5.8 0h0m5.8 0h0m5.7 0h0m5.8 0h0m5.8 0h0m5.8 0h0m11.5 0h0m5.8 0h0m5.7 0h0m5.8 0h0m5.8 0h0m5.8 0h0m5.7 0h0m11.6 0h0m5.8 0h0m5.7 0h0m5.8 0h0m5.8 0h0m5.7 0h0m5.8 0h0m5.8 0h0m5.8 0h0m-228 6.6h0m5.7 0h0m5.8 0h0m5.8 0h0m5.7 0h0m5.8 0h0m5.8 0h0m5.8 0h0m5.7 0h0m5.8 0h0m5.8 0h0m5.8 0h0m5.7 0h0m5.8 0h0m5.8 0h0m5.7 0h0m5.8 0h0m5.8 0h0m5.8 0h0m5.7 0h0m5.8 0h0m11.5 0h0m5.8 0h0m5.8 0h0m5.8 0h0m5.7 0h0m5.8 0h0m5.8 0h0m5.7 0h0m5.8 0h0m5.8 0h0m5.8 0h0m5.7 0h0m5.8 0h0m5.8 0h0m5.8 0h0m11.5 0h0m5.8 0h0m5.7 0h0m-239.5 6.6h0m11.5 0h0m17.4 0h0m5.7 0h0m17.4 0h0m5.7 0h0m5.8 0h0m5.8 0h0m5.7 0h0m11.6 0h0m5.8 0h0m5.7 0h0m5.8 0h0m5.8 0h0m5.7 0h0m5.8 0h0m5.8 0h0m5.8 0h0m5.7 0h0m5.8 0h0m5.8 0h0m5.7 0h0m5.8 0h0m5.8 0h0m5.8 0h0m5.7 0h0m5.8 0h0m5.8 0h0m5.8 0h0m5.7 0h0m5.8 0h0m5.8 0h0m5.7 0h0m5.8 0h0m5.8 0h0m-233.8 6.6h0m5.8 0h0m5.8 0h0m5.7 0h0m5.8 0h0m5.8 0h0m5.7 0h0m5.8 0h0m5.8 0h0m5.8 0h0m5.7 0h0m5.8 0h0m5.8 0h0m5.8 0h0m5.7 0h0m5.8 0h0m5.8 0h0m5.7 0h0m5.8 0h0m11.6 0h0m11.5 0h0m5.8 0h0m5.7 0h0m5.8 0h0m11.6 0h0m5.7 0h0m5.8 0h0m5.8 0h0m5.7 0h0m5.8 0h0m5.8 0h0m5.8 0h0m5.7 0h0m5.8 0h0m5.8 0h0m-216.5 6.6h0m5.8 0h0m5.8 0h0m5.7 0h0m11.6 0h0m5.8 0h0m5.7 0h0m5.8 0h0m11.6 0h0m5.7 0h0m5.8 0h0m5.8 0h0m5.7 0h0m5.8 0h0m5.8 0h0m17.3 0h0m5.8 0h0m5.7 0h0m5.8 0h0m5.8 0h0m5.8 0h0m5.7 0h0m5.8 0h0m5.8 0h0m5.7 0h0m5.8 0h0m5.8 0h0m5.8 0h0m5.7 0h0m5.8 0h0m5.8 0h0m5.8 0h0m5.7 0h0m-210.7 6.6h0m5.8 0h0m5.8 0h0m5.8 0h0m5.7 0h0m5.8 0h0m5.8 0h0m11.5 0h0m5.8 0h0m5.8 0h0m5.7 0h0m5.8 0h0m5.8 0h0m5.8 0h0m11.5 0h0m5.8 0h0m5.7 0h0m5.8 0h0m5.8 0h0m5.8 0h0m5.7 0h0m5.8 0h0m5.8 0h0m5.7 0h0m5.8 0h0m5.8 0h0m5.8 0h0m5.7 0h0m5.8 0h0m5.8 0h0m5.7 0h0m11.6 0h0m5.8 0h0m5.7 0h0m-204.9 6.6h0m5.8 0h0m5.8 0h0m5.7 0h0m5.8 0h0m5.8 0h0m5.8 0h0m5.7 0h0m5.8 0h0m5.8 0h0m5.8 0h0m5.7 0h0m11.6 0h0m5.7 0h0m5.8 0h0m11.6 0h0m5.7 0h0m5.8 0h0m5.8 0h0m5.7 0h0m5.8 0h0m5.8 0h0m5.8 0h0m5.7 0h0m5.8 0h0m5.8 0h0m5.7 0h0m5.8 0h0m11.6 0h0m17.3 0h0m-204.9 6.6h0m5.7 0h0m5.8 0h0m5.8 0h0m11.5 0h0m5.8 0h0m5.8 0h0m5.7 0h0m5.8 0h0m5.8 0h0m5.8 0h0m5.7 0h0m5.8 0h0m5.8 0h0m5.8 0h0m5.7 0h0m5.8 0h0m5.8 0h0m5.7 0h0m5.8 0h0m5.8 0h0m5.8 0h0m5.7 0h0m11.6 0h0m5.7 0h0m5.8 0h0m5.8 0h0m-164.5 6.6h0m11.5 0h0m5.8 0h0m5.8 0h0m5.7 0h0m11.6 0h0m5.8 0h0m5.7 0h0m5.8 0h0m5.8 0h0m5.8 0h0m5.7 0h0m5.8 0h0m5.8 0h0m17.3 0h0m5.8 0h0m11.5 0h0m5.8 0h0m5.7 0h0m5.8 0h0m5.8 0h0m5.8 0h0m-147.2 6.6h0m5.7 0h0m23.1 0h0m5.8 0h0m5.8 0h0m11.5 0h0m5.8 0h0m5.8 0h0m5.7 0h0m5.8 0h0m5.8 0h0m5.8 0h0m5.7 0h0m5.8 0h0m5.8 0h0m5.7 0h0m17.4 0h0m5.7 0h0m5.8 0h0m-124.1 6.6h0m11.5 0h0m5.8 0h0m5.8 0h0m5.8 0h0m5.7 0h0m5.8 0h0m5.8 0h0m5.8 0h0m5.7 0h0m5.8 0h0m5.8 0h0m5.7 0h0m5.8 0h0m5.8 0h0m5.8 0h0m11.5 0h0m5.8 0h0m5.7 0h0m5.8 0h0m-141.4 6.6h0m5.8 0h0m17.3 0h0m5.8 0h0m5.7 0h0m5.8 0h0m5.8 0h0m5.7 0h0m5.8 0h0m5.8 0h0m5.8 0h0m5.7 0h0m5.8 0h0m5.8 0h0m5.8 0h0m5.7 0h0m5.8 0h0m5.8 0h0m5.7 0h0m5.8 0h0m5.8 0h0m-124.1 6.6h0m17.3 0h0m5.8 0h0m5.7 0h0m5.8 0h0m5.8 0h0m5.8 0h0m5.7 0h0m11.6 0h0m5.8 0h0m5.7 0h0m11.6 0h0m5.7 0h0m5.8 0h0m11.6 0h0m5.7 0h0m5.8 0h0m-124.1 6.6h0m11.5 0h0m5.8 0h0m5.8 0h0m5.8 0h0m5.7 0h0m5.8 0h0m11.5 0h0m5.8 0h0m5.8 0h0m5.8 0h0m5.7 0h0m5.8 0h0m5.8 0h0m5.8 0h0m5.7 0h0m5.8 0h0m5.8 0h0m5.7 0h0m-112.5 6.5h0m5.8 0h0m11.5 0h0m5.8 0h0m5.7 0h0m5.8 0h0m5.8 0h0m5.8 0h0m11.5 0h0m5.8 0h0m5.8 0h0m11.5 0h0m5.8 0h0m5.7 0h0m5.8 0h0m11.6 0h0m-112.6 6.6h0m5.8 0h0m5.7 0h0m5.8 0h0m17.3 0h0m5.8 0h0m5.8 0h0m5.7 0h0m5.8 0h0m11.6 0h0m5.7 0h0m5.8 0h0m11.6 0h0m5.7 0h0m11.6 0h0m-106.8 6.6h0m5.8 0h0m5.7 0h0m5.8 0h0m5.8 0h0m5.7 0h0m5.8 0h0m5.8 0h0m5.8 0h0m5.7 0h0m5.8 0h0m5.8 0h0m5.8 0h0m5.7 0h0m5.8 0h0m5.8 0h0m5.7 0h0m5.8 0h0m5.8 0h0m-101 6.6h0m5.7 0h0m5.8 0h0m11.6 0h0m5.7 0h0m5.8 0h0m5.8 0h0m11.5 0h0m11.6 0h0m5.7 0h0m5.8 0h0m5.8 0h0m5.8 0h0m5.7 0h0m5.8 0h0m-95.2 6.6h0m5.7 0h0m5.8 0h0m5.8 0h0m5.7 0h0m11.6 0h0m5.8 0h0m5.7 0h0m5.8 0h0m5.8 0h0m5.8 0h0m11.5 0h0m5.8 0h0m5.7 0h0m5.8 0h0m-83.7 6.6h0m5.8 0h0m5.8 0h0m5.7 0h0m5.8 0h0m5.8 0h0m11.5 0h0m5.8 0h0m5.8 0h0m5.7 0h0m5.8 0h0m5.8 0h0m5.8 0h0m5.7 0h0m5.8 0h0m-83.7 6.6h0m5.8 0h0m5.7 0h0m11.6 0h0m5.8 0h0m5.7 0h0m5.8 0h0m5.8 0h0m5.8 0h0m11.5 0h0m5.8 0h0m5.7 0h0m5.8 0h0m-77.9 6.6h0m5.8 0h0m5.7 0h0m5.8 0h0m5.8 0h0m5.7 0h0m5.8 0h0m5.8 0h0m5.8 0h0m5.7 0h0m5.8 0h0m5.8 0h0m5.8 0h0m5.7 0h0m-72.1 6.6h0m11.5 0h0m5.8 0h0m5.8 0h0m5.7 0h0m5.8 0h0m11.6 0h0m5.7 0h0m5.8 0h0m5.8 0h0m5.7 0h0m5.8 0h0m5.8 0h0m-83.7 6.6h0m5.8 0h0m5.7 0h0m11.6 0h0m5.7 0h0m5.8 0h0m5.8 0h0m5.8 0h0m5.7 0h0m5.8 0h0m5.8 0h0m5.8 0h0m5.7 0h0m5.8 0h0m5.8 0h0m-83.7 6.6h0m5.7 0h0m5.8 0h0m5.8 0h0m5.8 0h0m5.7 0h0m5.8 0h0m5.8 0h0m5.8 0h0m11.5 0h0m5.8 0h0m5.7 0h0m11.6 0h0m-83.7 6.6h0m5.8 0h0m5.7 0h0m5.8 0h0m11.5 0h0m5.8 0h0m5.8 0h0m5.8 0h0m5.7 0h0m5.8 0h0m5.8 0h0m23.1 0h0m-78 6.6h0m5.8 0h0m5.8 0h0m5.8 0h0m5.7 0h0m5.8 0h0m5.8 0h0m5.8 0h0m5.7 0h0m5.8 0h0m5.8 0h0m5.7 0h0m5.8 0h0m5.8 0h0m5.8 0h0" stroke="#E6E7E9"/><path d="M589.7 884.4h0m-77.9 33h0m-37.5 19.8h0m-49.1 32.9h0m98.1 0h0m23.1 13.2h0m-66.4 6.6h0m46.2 0h0m-144.3 13.2h0m46.2 26.4h0m-11.6 13.2h0m23.1 0h0m-95.2 6.6h0m28.8 0h0m-25.9 6.6h0m-14.5 6.6h0m2.9 19.7h0m40.4 0h0m49.1 6.6h0m-66.4 19.8h0m-26 6.6h0m26 6.6h0m28.9 13.2h0m-26 6.6h0m52 13.2h0m11.5 0h0m-77.9 6.6h0" stroke="#F4715A"/><path d="M581 891h0m5.8 0h0m-43.3 19.8h0m5.8 0h0m11.5 0h0m17.4 0h0m-34.7 13.2h0m23.1 0h0m-34.6 13.2h0m-77.9 6.6h0m129.8 6.6h0m-89.4 6.5h0m2.8 6.6h0m60.7 6.6h0m-89.5 6.6h0m2.9 6.6h0m-101 6.6h0m28.8 0h0m72.2 6.6h0m-106.8 6.6h0m57.7 0h0m26 6.6h0m40.4 0h0m-129.9 6.6h0m28.9 0h0m-14.5 6.6h0m150.1 0h0m-118.3 6.6h0m60.6 6.6h0m-127 26.4h0m28.9 13.2h0m-23.1 26.3h0m28.8 0h0m11.6 0h0m14.4 6.6h0m-26 6.6h0m-20.2 19.8h0m46.2 13.2h0" stroke="#EE5744"/><path d="M549.3 897.6h0m-89.5 112.1h0m-20.2 6.6h0m-103.9 52.8h0m72.2 19.7h0" stroke="#F98C6F"/><path d="M540.6 904.2h0m-31.7 6.6h0m72.1 33h0m-190.4 26.3h0m-2.9 6.6h0m176 19.8h0m-216.4 6.6h0m40.4 0h0m31.7 19.8h0m-89.4 6.6h0m0 13.2h0m92.3 0h0m-101 6.6h0m121.2 0h0m-118.3 6.6h0m75 26.3h0m-31.7 72.6h0" stroke="#BE181E"/><path d="M526.2 910.8h0m57.7 0h0m-37.5 6.6h0m-37.5 6.6h0m11.5 0h0m54.9 6.6h0m-89.5 6.6h0m-92.3 26.3h0m126.9 0h0m-31.7 6.6h0m-83.7 6.6h0m92.3 0h0m63.5 0h0m23.1 13.2h0m-225.1 13.2h0m75.1 13.2h0m-83.7 19.8h0m8.6 6.6h0m-20.2 6.6h0m11.6 0h0m98.1 0h0m-112.6 6.6h0m103.9 0h0m-109.6 13.2h0m51.9 0h0m46.2 0h0m-101 6.6h0m17.3 13.1h0m5.8 0h0m34.6 0h0m14.4 33h0m23.1 26.4h0m-2.9 6.6h0" stroke="#E33F34"/><path d="M514.7 963.5h0m-109.7 105.6h0" stroke="#A30F18"/><path d="M396.3 970.1h0m-20.2 19.8h0m-46.1 66h0" stroke="#6E0A12"/><path d="M428.1 1082.2h0m-2.9 46.2h0" stroke="#D32928"/></g><defs><linearGradient id="gr" x1="0" y1="0" x2="0" y2="1"><stop offset="0" stop-color="#AE1219"/><stop offset=".2" stop-color="#CB1E22"/><stop offset=".4" stop-color="#E8412F"/><stop offset=".55" stop-color="#F7735A"/><stop offset=".72" stop-color="#FBA58B"/><stop offset=".87" stop-color="#FAD3C6"/><stop offset="1" stop-color="#F1EBEA"/></linearGradient></defs><rect x="639.3" y="983.6" width="11.4" height="87.6" fill="url(#gr)"/><path d="M639.3 1009.2h2.3M650.7 1009.2h-2.3" stroke="#fff" stroke-width=".8" stroke-opacity=".8"/><path d="M639.3 1039.8h2.3M650.7 1039.8h-2.3" stroke="#fff" stroke-width=".8" stroke-opacity=".8"/><path d="M639.3 1071.6h2.3M650.7 1071.6h-2.3" stroke="#fff" stroke-width=".8" stroke-opacity=".8"/></g><g id="tD"><text x="447" y="861.6" font-size="15" text-anchor="start" fill="#222">Igf1</text><text x="659.5" y="1013.6" font-size="12.3" text-anchor="start" fill="#2b2b2b">1.0</text><text x="659.5" y="1044.2" font-size="12.3" text-anchor="start" fill="#2b2b2b">0.5</text><text x="659.5" y="1076" font-size="12.3" text-anchor="start" fill="#2b2b2b">0.0</text></g></defs><use href="#pD" class="im"/><use href="#pD" opacity=".5"/><use href="#tD" class="im" opacity=".6"/><use href="#tD" opacity=".8"/></svg></figure>
<figure aria-label="Igf1r expression"><svg class="abs" style="left:700px;top:730px" width="440" height="460" viewBox="700 730 440 460"><text class="pl" x="763.5" y="767.6">E</text><defs><g id="pE"><g fill="none" stroke-linecap="round" stroke-width="3.6"><path d="M978.7 884.4h0m20.2 6.6h0m-83.7 6.6h0m17.3 0h0m34.6 0h0m-43.3 6.6h0m57.7 0h0m-63.5 13.2h0m11.6 0h0m57.7 0h0m-14.4 6.6h0m-101 6.6h0m5.7 0h0m80.9 0h0m17.3 0h0m-49.1 6.6h0m-60.6 6.6h0m23.1 0h0m11.5 0h0m75.1 0h0m-54.9 6.6h0m-95.2 6.5h0m5.8 0h0m40.4 0h0m109.6 0h0m-193.3 6.6h0m28.8 0h0m86.6 0h0m-66.4 6.6h0m5.8 0h0m98.1 0h0m-141.4 6.6h0m57.7 0h0m-60.6 6.6h0m20.2 6.6h0m40.4 0h0m-72.1 6.6h0m196.2 0h0m-152.9 6.6h0m57.7 0h0m-141.4 6.6h0m69.3 0h0m109.6 0h0m28.9 0h0m-210.7 6.6h0m11.5 0h0m127 0h0m23.1 0h0m40.4 0h0m-193.3 6.6h0m54.8 6.6h0m69.3 0h0m17.3 0h0m-164.5 6.6h0m34.6 0h0m11.5 0h0m5.8 0h0m23.1 0h0m34.6 0h0m2.9 6.6h0m34.7 0h0m-101.1 6.6h0m80.9 0h0m-37.6 6.6h0m-54.8 6.6h0m46.2 0h0m40.4 0h0m-77.9 6.6h0m66.3 6.6h0m-103.9 13.1h0m57.8 0h0m31.7 6.6h0m-66.4 6.6h0m-8.6 6.6h0m17.3 0h0m51.9 0h0m-25.9 6.6h0m5.7 0h0m23.1 0h0m-66.4 6.6h0m8.7 6.6h0m5.8 0h0m20.2 6.6h0m23.1 0h0m-8.7 6.6h0m-54.8 6.6h0m14.4 6.6h0m17.3 0h0m26 6.6h0" stroke="#E33F34"/><path d="M984.4 884.4h0m-8.6 6.6h0m17.3 0h0m-49.1 6.6h0m34.7 0h0m-2.9 6.6h0m-26 6.6h0m23.1 0h0m23.1 0h0m-49.1 6.6h0m34.6 0h0m-83.7 6.6h0m23.1 0h0m11.6 0h0m5.7 0h0m31.8 6.6h0m11.5 0h0m-89.4 6.6h0m63.5 0h0m-78 6.6h0m103.9 0h0m-170.2 6.6h0m34.6 0h0m17.3 0h0m98.1 0h0m23.1 0h0m-170.2 6.5h0m5.7 0h0m144.3 0h0m-170.3 6.6h0m11.6 0h0m121.2 0h0m28.9 0h0m23.1 0h0m-199.2 6.6h0m75.1 0h0m28.8 0h0m40.4 0h0m40.4 0h0m-158.7 6.6h0m80.8 0h0m75 0h0m-135.6 6.6h0m57.7 0h0m34.6 0h0m63.5 0h0m-199.1 6.6h0m86.6 0h0m92.3 0h0m-118.3 6.6h0m11.6 0h0m46.1 0h0m23.1 0h0m11.6 0h0m23.1 0h0m-193.4 6.6h0m17.3 0h0m23.1 0h0m34.6 0h0m109.7 0h0m-199.1 6.6h0m23 0h0m57.8 0h0m40.4 0h0m40.4 0h0m-135.7 6.6h0m11.6 0h0m46.2 0h0m57.7 0h0m17.3 0h0m17.3 0h0m-187.6 6.6h0m17.3 0h0m11.6 0h0m51.9 0h0m34.7 0h0m51.9 0h0m-2.9 6.6h0m-72.1 6.6h0m11.5 0h0m-89.5 6.6h0m28.9 0h0m43.3 6.6h0m-95.2 6.6h0m63.4 0h0m57.8 0h0m-124.1 6.6h0m57.7 0h0m34.6 0h0m-80.8 13.2h0m52 0h0m-49.1 6.5h0m8.7 6.6h0m34.6 0h0m-2.9 6.6h0m-54.8 6.6h0m5.7 0h0m80.9 0h0m-78 6.6h0m5.8 0h0m46.2 0h0m-31.8 6.6h0m52 0h0m-60.6 6.6h0m34.6 0h0m-34.6 13.2h0m34.6 0h0m-26 6.6h0m5.8 0h0m5.8 0h0m40.4 0h0m-63.5 13.2h0m75 0h0m-31.7 6.6h0m46.2 0h0" stroke="#FA9F83"/><path d="M990.2 884.4h0m-2.9 6.6h0m-37.5 6.6h0m5.8 0h0m28.8 0h0m-66.4 6.6h0m11.6 0h0m23.1 0h0m-37.5 6.6h0m11.5 0h0m34.6 0h0m-20.2 6.6h0m17.4 0h0m-95.3 6.6h0m46.2 0h0m40.4 0h0m28.9 0h0m-135.7 6.6h0m46.2 0h0m17.3 0h0m23.1 0h0m5.8 0h0m11.5 0h0m5.8 0h0m-124.1 6.6h0m5.8 0h0m51.9 0h0m57.7 0h0m5.8 0h0m28.9 0h0m-141.5 6.6h0m23.1 0h0m11.6 0h0m11.5 0h0m11.6 0h0m34.6 0h0m34.6 0h0m-158.7 6.6h0m51.9 0h0m34.7 0h0m5.7 0h0m17.4 0h0m11.5 0h0m17.3 0h0m-147.2 6.5h0m40.4 0h0m57.8 0h0m34.6 0h0m17.3 0h0m5.8 0h0m5.8 0h0m11.5 0h0m5.8 0h0m11.5 0h0m-187.6 6.6h0m11.6 0h0m28.8 0h0m5.8 0h0m5.8 0h0m11.5 0h0m23.1 0h0m11.5 0h0m11.6 0h0m23.1 0h0m11.5 0h0m17.3 0h0m5.8 0h0m17.3 0h0m5.8 0h0m-187.6 6.6h0m5.8 0h0m11.5 0h0m40.4 0h0m11.6 0h0m23.1 0h0m5.7 0h0m5.8 0h0m11.5 0h0m34.7 0h0m5.8 0h0m23 0h0m5.8 0h0m-216.4 6.6h0m5.7 0h0m63.5 0h0m23.1 0h0m46.2 0h0m17.3 0h0m5.8 0h0m5.7 0h0m28.9 0h0m5.8 0h0m5.8 0h0m5.7 0h0m-222.2 6.6h0m5.8 0h0m17.3 0h0m46.2 0h0m28.8 0h0m5.8 0h0m23.1 0h0m5.8 0h0m5.7 0h0m5.8 0h0m5.8 0h0m17.3 0h0m5.8 0h0m5.7 0h0m17.4 0h0m5.7 0h0m5.8 0h0m5.8 0h0m11.5 0h0m-228 6.6h0m28.9 0h0m17.3 0h0m17.3 0h0m11.6 0h0m5.7 0h0m34.7 0h0m11.5 0h0m5.8 0h0m17.3 0h0m5.8 0h0m11.5 0h0m5.8 0h0m11.5 0h0m5.8 0h0m23.1 0h0m5.8 0h0m5.7 0h0m-233.7 6.6h0m5.7 0h0m34.7 0h0m17.3 0h0m5.8 0h0m17.3 0h0m28.8 0h0m5.8 0h0m17.3 0h0m5.8 0h0m5.8 0h0m23 0h0m23.1 0h0m5.8 0h0m23.1 0h0m5.8 0h0m-222.3 6.6h0m5.8 0h0m40.4 0h0m63.5 0h0m28.9 0h0m11.5 0h0m28.9 0h0m28.8 0h0m11.6 0h0m-210.7 6.6h0m5.8 0h0m17.3 0h0m23.1 0h0m17.3 0h0m11.5 0h0m11.6 0h0m5.8 0h0m5.7 0h0m5.8 0h0m28.9 0h0m-147.2 6.6h0m11.5 0h0m40.4 0h0m5.8 0h0m5.8 0h0m46.1 0h0m5.8 0h0m11.6 0h0m57.7 0h0m5.7 0h0m-204.9 6.6h0m28.9 0h0m17.3 0h0m23.1 0h0m5.8 0h0m17.3 0h0m5.8 0h0m17.3 0h0m11.5 0h0m34.7 0h0m40.4 0h0m-204.9 6.6h0m5.7 0h0m17.3 0h0m11.6 0h0m23.1 0h0m28.8 0h0m5.8 0h0m23.1 0h0m23.1 0h0m11.5 0h0m17.3 0h0m-152.9 6.6h0m80.8 0h0m28.9 0h0m5.7 0h0m5.8 0h0m5.8 0h0m17.3 0h0m-153 6.6h0m11.6 0h0m11.5 0h0m11.6 0h0m28.8 0h0m-72.1 6.6h0m11.5 0h0m28.9 0h0m11.5 0h0m11.6 0h0m5.7 0h0m-60.6 6.6h0m5.8 0h0m23.1 0h0m40.4 0h0m34.6 0h0m-118.3 6.6h0m34.6 0h0m11.6 0h0m5.7 0h0m5.8 0h0m11.6 0h0m5.7 0h0m46.2 0h0m-112.5 6.6h0m5.7 0h0m5.8 0h0m5.8 0h0m11.5 0h0m5.8 0h0m23.1 0h0m17.3 0h0m11.5 0h0m17.4 0h0m5.7 0h0m5.8 0h0m-95.2 6.6h0m5.7 0h0m69.3 0h0m-101 6.5h0m5.8 0h0m5.7 0h0m17.3 0h0m23.1 0h0m28.9 0h0m-77.9 6.6h0m80.8 0h0m5.8 0h0m5.7 0h0m11.6 0h0m-54.9 6.6h0m52 0h0m-54.9 6.6h0m11.6 0h0m40.4 0h0m-31.8 6.6h0m5.8 0h0m-60.6 6.6h0m11.6 0h0m17.3 0h0m17.3 0h0m17.3 0h0m-60.6 6.6h0m34.6 0h0m11.6 0h0m11.5 0h0m5.8 0h0m11.5 0h0m5.8 0h0m-72.1 6.6h0m34.6 0h0m11.5 0h0m23.1 0h0m5.8 0h0m-54.8 6.6h0m5.7 0h0m40.4 0h0m5.8 0h0m-77.9 6.6h0m5.8 0h0m28.8 0h0m5.8 0h0m28.9 0h0m11.5 0h0m-72.2 6.6h0m11.6 0h0m51.9 0h0m-25.9 6.6h0m23.1 0h0m11.5 0h0m5.8 0h0m-72.2 6.6h0m11.6 0h0m23 0h0m5.8 0h0m17.3 0h0" stroke="#E6E7E9"/><path d="M946.9 891h0m11.6 0h0m23 0h0m11.6 13.2h0m0 13.2h0m-112.6 6.6h0m43.3 6.6h0m69.3 0h0m-135.7 6.6h0m11.6 0h0m11.5 0h0m57.7 0h0m-14.4 6.6h0m34.7 0h0m-8.7 6.6h0m5.8 0h0m-112.6 6.5h0m63.5 0h0m8.7 6.6h0m34.6 0h0m-135.6 6.6h0m11.5 0h0m-14.4 6.6h0m63.5 0h0m28.8 0h0m17.3 0h0m34.7 0h0m34.6 0h0m-170.3 6.6h0m-49 6.6h0m23 0h0m34.7 0h0m51.9 0h0m-118.3 6.6h0m11.5 0h0m-31.7 6.6h0m109.7 0h0m57.7 0h0m28.8 0h0m-95.2 6.6h0m40.4 0h0m5.8 0h0m17.3 0h0m-141.4 6.6h0m17.3 0h0m34.6 0h0m69.3 0h0m11.5 0h0m-152.9 6.6h0m23.1 13.2h0m83.7 6.6h0m-43.3 6.6h0m28.8 0h0m-2.8 6.6h0m-95.3 6.6h0m-17.3 13.2h0m5.8 0h0m17.3 0h0m49 6.5h0m-20.2 6.6h0m52 0h0m-31.8 6.6h0m5.8 0h0m-8.6 6.6h0m-37.6 6.6h0m23.1 0h0m28.9 0h0m-60.6 19.8h0m69.3 0h0m-17.4 13.2h0m-46.1 13.2h0m34.6 0h0m37.5 6.6h0" stroke="#FBB298"/><path d="M952.7 891h0m-8.7 19.8h0m46.2 0h0m-54.8 6.6h0m28.8 0h0m11.6 0h0m-89.5 6.6h0m23.1 13.2h0m23.1 0h0m57.7 0h0m-147.2 6.6h0m63.5 0h0m28.9 0h0m34.6 0h0m-153 6.6h0m63.5 0h0m98.2 0h0m-155.9 13.1h0m57.7 0h0m11.6 0h0m28.8 0h0m52 0h0m-83.7 6.6h0m46.2 0h0m34.6 0h0m-135.6 6.6h0m46.1 0h0m63.5 0h0m-170.3 6.6h0m17.4 0h0m11.5 0h0m5.8 0h0m28.8 0h0m5.8 0h0m103.9 0h0m-170.3 6.6h0m121.2 0h0m57.8 0h0m-176.1 6.6h0m46.2 0h0m23.1 0h0m63.5 0h0m-141.4 6.6h0m75 0h0m23.1 0h0m46.2 0h0m40.4 0h0m11.5 0h0m-228 6.6h0m52 0h0m86.5 0h0m40.4 0h0m11.6 0h0m5.8 0h0m11.5 0h0m-153 6.6h0m57.8 0h0m69.2 0h0m-129.8 6.6h0m51.9 0h0m-95.2 6.6h0m34.6 0h0m28.9 0h0m40.4 0h0m-95.3 6.6h0m121.2 0h0m-31.7 6.6h0m-112.6 6.6h0m17.4 0h0m63.5 0h0m-46.2 26.4h0m5.7 0h0m11.6 0h0m-20.2 6.5h0m5.8 0h0m-8.7 6.6h0m-37.5 6.6h0m11.5 0h0m11.6 0h0m-8.7 6.6h0m23.1 0h0m46.2 0h0m-37.5 6.6h0m8.6 6.6h0m-20.2 6.6h0m-2.9 6.6h0m17.3 0h0m17.4 0h0m-31.8 6.6h0m5.8 0h0m40.4 13.2h0m23.1 0h0m-80.8 13.2h0m34.6 0h0" stroke="#F98C6F"/><path d="M964.2 891h0m-2.9 6.6h0m-25.9 6.6h0m11.5 0h0m11.6 0h0m-2.9 6.6h0m-66.4 6.6h0m5.8 0h0m5.7 0h0m-8.6 6.6h0m11.5 0h0m11.6 0h0m51.9 0h0m17.3 0h0m11.6 0h0m-95.3 6.6h0m17.3 0h0m-66.3 6.6h0m46.1 0h0m63.5 0h0m5.8 0h0m5.8 0h0m-147.2 6.6h0m86.6 0h0m5.7 0h0m28.9 0h0m40.4 0h0m5.8 0h0m-170.3 6.6h0m5.8 0h0m5.8 0h0m17.3 0h0m138.5 0h0m-101 6.5h0m28.8 0h0m5.8 0h0m11.6 0h0m-101 6.6h0m34.6 0h0m69.2 0h0m-152.9 6.6h0m92.3 0h0m34.7 0h0m17.3 0h0m63.5 0h0m-164.5 6.6h0m17.3 0h0m23.1 0h0m28.8 0h0m17.4 0h0m-101 6.6h0m57.7 0h0m5.7 0h0m46.2 0h0m-158.7 6.6h0m86.6 0h0m11.5 0h0m103.9 0h0m-170.3 6.6h0m109.7 0h0m-158.7 6.6h0m40.4 0h0m28.8 0h0m5.8 0h0m11.6 0h0m40.4 0h0m46.1 0h0m23.1 0h0m-187.6 6.6h0m23.1 0h0m17.3 0h0m23.1 0h0m121.2 0h0m-204.9 6.6h0m34.7 0h0m75 0h0m-49.1 6.6h0m17.4 0h0m75 0h0m28.8 0h0m5.8 0h0m5.8 0h0m-158.7 6.6h0m5.7 0h0m57.8 0h0m23 0h0m-118.3 6.6h0m52 0h0m17.3 0h0m-77.9 6.6h0m11.5 0h0m46.2 0h0m5.7 0h0m40.5 0h0m-89.5 6.6h0m17.3 0h0m23.1 0h0m75 0h0m-77.9 6.6h0m17.3 0h0m23.1 0h0m34.6 0h0m-112.5 6.6h0m80.8 0h0m11.5 0h0m-43.3 6.6h0m17.4 0h0m-8.7 6.6h0m17.3 0h0m-72.1 6.5h0m40.4 0h0m-66.4 6.6h0m17.3 0h0m28.9 0h0m-37.5 6.6h0m14.4 6.6h0m5.8 0h0m28.8 0h0m31.8 6.6h0m2.9 6.6h0m-31.8 33h0m17.3 0h0m-26 6.6h0m34.7 0h0m-31.8 6.6h0m34.7 0h0" stroke="#EE5744"/><path d="M970 891h0m17.3 13.2h0m-66.4 6.6h0m11.6 0h0m-26 6.6h0m17.3 0h0m2.9 6.6h0m-60.6 6.6h0m17.3 0h0m57.7 0h0m-101 6.6h0m63.5 13.2h0m28.9 0h0m34.6 0h0m-66.4 6.5h0m-34.6 13.2h0m80.8 0h0m-167.4 13.2h0m66.4 6.6h0m92.3 0h0m26 6.6h0m-92.3 26.4h0m-106.8 19.8h0m11.5 0h0m46.2 0h0m34.6 0h0m-54.8 6.6h0m43.3 6.6h0m-63.5 13.2h0m17.3 0h0m31.8 6.6h0m-86.6 13.1h0m34.6 0h0m-11.5 13.2h0m-8.7 6.6h0m23.1 0h0m-37.5 6.6h0m66.4 6.6h0m-11.6 13.2h0m-26 6.6h0m54.9 19.8h0" stroke="#BE181E"/><path d="M920.9 897.6h0m5.8 0h0m11.5 0h0m52 0h0m-26 6.6h0m5.8 0h0m-66.4 6.6h0m63.5 0h0m11.6 0h0m5.7 0h0m-101 6.6h0m28.9 0h0m40.4 0h0m17.3 0h0m-101 6.6h0m75 0h0m11.6 0h0m-101 6.6h0m40.4 0h0m17.3 0h0m51.9 0h0m23.1 0h0m-72.1 6.6h0m5.7 0h0m63.5 0h0m-98.1 13.2h0m86.6 0h0m23.1 0h0m-135.7 6.5h0m52 0h0m-83.7 6.6h0m-37.5 6.6h0m25.9 6.6h0m-5.7 13.2h0m-8.7 6.6h0m17.3 0h0m17.3 0h0m60.6 6.6h0m-57.7 13.2h0m-2.9 6.6h0m75.1 0h0m28.8 0h0m-199.1 6.6h0m144.3 0h0m-153 6.6h0m63.5 0h0m8.7 6.6h0m11.5 0h0m11.6 0h0m-106.8 6.6h0m127 0h0m-89.5 6.6h0m103.9 0h0m-109.7 13.2h0m69.3 0h0m5.8 0h0m-95.3 6.6h0m46.2 0h0m34.7 0h0m2.8 6.5h0m11.6 0h0m-26 6.6h0m-60.6 6.6h0m54.8 6.6h0m5.8 0h0m17.3 0h0m-17.3 26.4h0m26 6.6h0m-52 13.2h0m20.2 6.6h0m5.8 0h0" stroke="#D32928"/><path d="M972.9 897.6h0m-63.5 13.2h0m80.8 13.2h0m-144.3 13.2h0m28.9 0h0m-34.7 13.2h0m-46.2 52.7h0m89.5 19.8h0m17.3 0h0m-141.4 6.6h0m109.7 13.2h0m-98.1 13.2h0m-20.2 6.6h0m80.8 0h0m-23.1 13.2h0m-2.9 59.3h0m-49.1 19.8h0m11.6 0h0m-14.5 6.6h0" stroke="#A30F18"/><path d="M912.3 904.2h0m-37.5 19.8h0m-43.3 19.8h0m23.1 13.1h0m-60.7 19.8h0m158.8 6.6h0m-199.2 6.6h0m46.2 0h0m121.2 0h0m31.8 6.6h0m-52 13.2h0m-31.7 6.6h0m-5.8 13.2h0m-77.9 6.6h0m-60.6 19.8h0m28.8 0h0m75.1 0h0m-103.9 13.2h0m51.9 0h0m-17.3 26.3h0m28.9 0h0m34.6 13.2h0m2.9 6.6h0m-54.8 6.6h0m23 0h0m14.5 6.6h0m-14.5 6.6h0m-34.6 13.2h0m11.6 0h0" stroke="#FAC2AB"/><path d="M941.1 904.2h0m-43.3 6.6h0m40.4 0h0m-60.6 6.6h0m83.7 6.6h0m-112.5 6.6h0m11.5 0h0m2.9 6.6h0m40.4 0h0m-83.7 6.6h0m28.9 0h0m5.8 0h0m86.5 0h0m11.6 0h0m-83.7 6.6h0m5.8 0h0m34.6 0h0m28.8 0h0m-135.6 6.5h0m5.8 0h0m40.4 0h0m17.3 0h0m11.5 0h0m5.8 0h0m57.7 0h0m52 0h0m-135.7 6.6h0m17.4 0h0m-78 6.6h0m34.7 0h0m17.3 0h0m127 0h0m-193.4 6.6h0m5.8 0h0m34.6 0h0m28.9 0h0m40.4 0h0m57.7 0h0m-101 6.6h0m5.8 0h0m49 6.6h0m-135.6 6.6h0m103.9 0h0m5.7 0h0m52 0h0m-153 6.6h0m34.7 0h0m46.1 0h0m23.1 0h0m46.2 0h0m-124.1 6.6h0m20.2 6.6h0m5.8 0h0m86.6 0h0m-141.5 6.6h0m11.6 0h0m80.8 0h0m11.5 0h0m-83.7 6.6h0m5.8 0h0m28.9 0h0m11.5 0h0m75.1 0h0m17.3 0h0m-181.8 6.6h0m63.5 0h0m5.7 0h0m28.9 0h0m34.6 0h0m-158.7 6.6h0m86.6 0h0m51.9 0h0m-106.8 6.6h0m63.5 0h0m11.6 0h0m11.5 0h0m23.1 0h0m-118.3 6.6h0m28.8 0h0m11.6 0h0m23.1 0h0m-78 6.6h0m69.3 0h0m11.6 0h0m-52 13.2h0m34.6 0h0m-37.5 6.5h0m23.1 0h0m17.3 0h0m11.6 0h0m11.5 0h0m11.6 0h0m-78 6.6h0m40.4 0h0m-43.3 6.6h0m11.6 0h0m5.8 0h0m34.6 0h0m5.8 0h0m5.7 0h0m-86.5 13.2h0m2.8 6.6h0m28.9 0h0m11.5 0h0m-8.6 6.6h0m14.4 6.6h0m-26 6.6h0m37.6 6.6h0m28.8 0h0m11.6 0h0m-43.3 6.6h0m5.7 0h0m17.4 0h0m11.5 0h0m-57.7 13.2h0" stroke="#F4715A"/></g><rect x="1039.3" y="983.6" width="11.6" height="87.8" fill="url(#gr)"/><path d="M1039.3 997.6h2.3M1050.9 997.6h-2.3" stroke="#fff" stroke-width=".8" stroke-opacity=".8"/><path d="M1039.3 1022.1h2.3M1050.9 1022.1h-2.3" stroke="#fff" stroke-width=".8" stroke-opacity=".8"/><path d="M1039.3 1046.6h2.3M1050.9 1046.6h-2.3" stroke="#fff" stroke-width=".8" stroke-opacity=".8"/><path d="M1039.3 1070.9h2.3M1050.9 1070.9h-2.3" stroke="#fff" stroke-width=".8" stroke-opacity=".8"/></g><g id="tE"><text x="844.8" y="861.6" font-size="15" text-anchor="start" fill="#222">Igf1r</text><text x="1060" y="1002" font-size="12.3" text-anchor="start" fill="#2b2b2b">1.5</text><text x="1060" y="1026.5" font-size="12.3" text-anchor="start" fill="#2b2b2b">1.0</text><text x="1060" y="1051" font-size="12.3" text-anchor="start" fill="#2b2b2b">0.5</text><text x="1060" y="1075.3" font-size="12.3" text-anchor="start" fill="#2b2b2b">0.0</text></g></defs><use href="#pE" class="im"/><use href="#pE" opacity=".5"/><use href="#tE" class="im" opacity=".6"/><use href="#tE" opacity=".8"/></svg></figure>
<figure aria-label="IGF1_IGF1R co-expression"><svg class="abs" style="left:1150px;top:730px" width="460" height="460" viewBox="1150 730 460 460"><text class="pl" x="1188" y="771">F</text><defs><g id="pF"><g fill="none" stroke-linecap="round" stroke-width="2.7"><path d="M1425.4 871.8h0m31.3 0h0m-72 7.1h0m12.5 0h0m25.1 0h0m-40.7 7.1h0m28.2 7.1h0m18.7 0h0m-103.3 7.2h0m93.9 0h0m31.4 0h0m-147.2 7.1h0m50.1 0h0m18.8 0h0m25 0h0m6.3 0h0m12.5 0h0m6.3 0h0m-134.7 7.1h0m6.3 0h0m119 0h0m6.2 0h0m31.4 0h0m-153.5 7.1h0m25.1 0h0m12.5 0h0m12.5 0h0m12.6 0h0m37.5 0h0m37.6 0h0m-172.2 7.2h0m56.4 0h0m37.5 0h0m6.3 0h0m18.8 0h0m12.5 0h0m18.8 0h0m-159.7 7.1h0m43.8 0h0m100.2 0h0m18.8 0h0m6.3 0h0m6.2 0h0m12.6 0h0m6.2 0h0m12.6 0h0m-203.6 7.1h0m12.6 0h0m31.3 0h0m6.2 0h0m6.3 0h0m12.5 0h0m25.1 0h0m25 0h0m25.1 0h0m12.5 0h0m18.8 0h0m6.2 0h0m18.8 0h0m6.3 0h0m-203.5 7.1h0m6.2 0h0m12.6 0h0m43.8 0h0m12.5 0h0m25.1 0h0m6.2 0h0m6.3 0h0m12.5 0h0m37.6 0h0m31.3 0h0m6.3 0h0m-234.9 7.2h0m6.3 0h0m68.9 0h0m25 0h0m50.1 0h0m18.8 0h0m6.3 0h0m6.2 0h0m31.3 0h0m6.3 0h0m6.3 0h0m6.2 0h0m-241.1 7.1h0m6.3 0h0m18.8 0h0m50.1 0h0m31.3 0h0m6.2 0h0m25.1 0h0m6.3 0h0m6.2 0h0m6.3 0h0m6.2 0h0m18.8 0h0m6.3 0h0m6.3 0h0m18.7 0h0m6.3 0h0m6.3 0h0m6.2 0h0m12.6 0h0m-247.4 7.1h0m31.3 0h0m18.8 0h0m18.8 0h0m12.5 0h0m6.3 0h0m37.5 0h0m12.6 0h0m6.2 0h0m18.8 0h0m6.3 0h0m18.8 0h0m12.5 0h0m6.2 0h0m25.1 0h0m6.3 0h0m-247.4 7.1h0m6.3 0h0m37.5 0h0m18.8 0h0m6.3 0h0m18.8 0h0m31.3 0h0m6.2 0h0m18.8 0h0m6.3 0h0m6.3 0h0m25 0h0m25.1 0h0m6.2 0h0m25.1 0h0m6.2 0h0m-241.1 7.2h0m50.1 0h0m68.9 0h0m31.3 0h0m12.6 0h0m31.3 0h0m31.3 0h0m12.5 0h0m-228.6 7.1h0m6.3 0h0m18.8 0h0m25 0h0m18.8 0h0m12.5 0h0m18.8 0h0m12.5 0h0m31.4 0h0m-159.7 7.1h0m56.3 0h0m6.3 0h0m6.3 0h0m50.1 0h0m6.2 0h0m12.5 0h0m62.7 0h0m6.2 0h0m-222.3 7.1h0m31.3 0h0m18.8 0h0m25.1 0h0m6.2 0h0m18.8 0h0m6.3 0h0m18.8 0h0m12.5 0h0m37.6 0h0m43.8 0h0m-216 7.2h0m18.7 0h0m12.6 0h0m25 0h0m31.3 0h0m6.3 0h0m25 0h0m25.1 0h0m12.5 0h0m18.8 0h0m-166 7.1h0m87.7 0h0m31.3 0h0m6.3 0h0m12.5 0h0m18.8 0h0m-165.9 7.1h0m12.5 0h0m25 0h0m31.3 0h0m-78.2 7.2h0m43.8 0h0m12.5 0h0m12.5 0h0m6.3 0h0m-59.5 7.1h0m25.1 0h0m43.8 0h0m-90.8 7.1h0m37.6 0h0m12.5 0h0m6.3 0h0m6.2 0h0m12.5 0h0m6.3 0h0m50.1 0h0m-109.6 7.1h0m6.3 0h0m12.5 0h0m6.3 0h0m25 0h0m31.3 0h0m18.8 0h0m6.3 0h0m6.2 0h0m-103.3 7.2h0m6.3 0h0m75.1 0h0m-109.6 7.1h0m6.3 0h0m25 0h0m56.4 0h0m-84.5 7.1h0m93.9 0h0m6.3 0h0m12.5 0h0m-59.5 7.1h0m56.3 0h0m-3.1 7.2h0m-34.4 7.1h0m-59.5 7.1h0m12.5 0h0m18.8 0h0m18.8 0h0m18.8 0h0m-65.8 7.1h0m37.6 0h0m12.5 0h0m18.8 0h0m12.5 0h0m6.3 0h0m-78.3 7.2h0m37.6 0h0m12.5 0h0m25.1 0h0m-53.3 7.1h0m6.3 0h0m43.8 0h0m6.3 0h0m-84.6 7.1h0m6.3 0h0m31.3 0h0m6.3 0h0m31.3 0h0m12.5 0h0m-78.3 7.1h0m12.6 0h0m56.3 0h0m-28.2 7.2h0m43.9 0h0m-78.3 7.1h0m12.5 0h0m25.1 0h0m6.2 0h0m18.8 0h0" stroke="#E9E9EC"/><path d="M1450.5 857.5h0m6.2 0h0m-40.7 7.1h0m6.3 0h0m6.2 0h0m6.3 0h0m6.3 0h0m6.2 0h0m18.8 0h0m6.3 0h0m-90.8 7.2h0m6.2 0h0m6.3 0h0m6.3 0h0m6.2 0h0m6.3 0h0m18.8 0h0m6.2 0h0m6.3 0h0m6.3 0h0m12.5 0h0m-84.6 7.1h0m12.6 0h0m12.5 0h0m12.5 0h0m12.5 0h0m6.3 0h0m6.3 0h0m6.2 0h0m6.3 0h0m6.3 0h0m6.2 0h0m-103.3 7.1h0m6.3 0h0m18.7 0h0m12.6 0h0m6.2 0h0m18.8 0h0m12.5 0h0m6.3 0h0m18.8 0h0m6.2 0h0m-128.3 7.1h0m6.2 0h0m6.3 0h0m6.3 0h0m6.2 0h0m6.3 0h0m12.5 0h0m6.3 0h0m6.2 0h0m6.3 0h0m18.8 0h0m12.5 0h0m6.3 0h0m6.2 0h0m6.3 0h0m6.3 0h0m6.2 0h0m-134.6 7.2h0m6.2 0h0m6.3 0h0m6.3 0h0m6.2 0h0m6.3 0h0m6.3 0h0m12.5 0h0m12.5 0h0m6.3 0h0m6.2 0h0m18.8 0h0m6.3 0h0m12.5 0h0m12.5 0h0m6.3 0h0m6.2 0h0m-159.6 7.1h0m6.2 0h0m6.3 0h0m6.2 0h0m6.3 0h0m6.3 0h0m6.2 0h0m12.6 0h0m6.2 0h0m12.5 0h0m6.3 0h0m6.3 0h0m18.8 0h0m18.7 0h0m6.3 0h0m6.3 0h0m12.5 0h0m6.3 0h0m6.2 0h0m-165.9 7.1h0m6.2 0h0m6.3 0h0m6.3 0h0m6.2 0h0m6.3 0h0m12.5 0h0m12.5 0h0m6.3 0h0m6.3 0h0m6.2 0h0m6.3 0h0m6.2 0h0m6.3 0h0m12.5 0h0m18.8 0h0m6.3 0h0m6.2 0h0m6.3 0h0m12.5 0h0m6.3 0h0m-184.7 7.1h0m6.2 0h0m6.3 0h0m12.5 0h0m6.3 0h0m18.7 0h0m12.6 0h0m12.5 0h0m12.5 0h0m6.3 0h0m6.2 0h0m6.3 0h0m6.3 0h0m12.5 0h0m6.3 0h0m6.2 0h0m6.3 0h0m6.2 0h0m12.6 0h0m6.2 0h0m12.6 0h0m6.2 0h0m-197.2 7.2h0m6.2 0h0m6.3 0h0m6.2 0h0m6.3 0h0m6.3 0h0m6.2 0h0m6.3 0h0m12.5 0h0m6.3 0h0m6.2 0h0m6.3 0h0m6.3 0h0m18.8 0h0m6.2 0h0m12.5 0h0m12.6 0h0m6.2 0h0m12.5 0h0m6.3 0h0m6.3 0h0m6.2 0h0m6.3 0h0m6.3 0h0m12.5 0h0m6.2 0h0m-209.7 7.1h0m6.2 0h0m6.3 0h0m6.3 0h0m6.2 0h0m6.3 0h0m12.5 0h0m6.3 0h0m6.2 0h0m6.3 0h0m6.2 0h0m6.3 0h0m6.3 0h0m6.2 0h0m6.3 0h0m12.5 0h0m6.3 0h0m6.2 0h0m6.3 0h0m6.3 0h0m12.5 0h0m6.3 0h0m25 0h0m18.8 0h0m12.5 0h0m-222.3 7.1h0m18.8 0h0m12.5 0h0m6.3 0h0m6.2 0h0m6.3 0h0m25.1 0h0m12.5 0h0m6.2 0h0m6.3 0h0m12.5 0h0m12.6 0h0m25 0h0m12.5 0h0m12.5 0h0m6.3 0h0m18.8 0h0m6.3 0h0m-216.1 7.1h0m6.3 0h0m31.3 0h0m18.8 0h0m6.2 0h0m6.3 0h0m6.3 0h0m6.2 0h0m12.5 0h0m12.6 0h0m6.2 0h0m31.3 0h0m18.8 0h0m6.3 0h0m6.3 0h0m6.2 0h0m18.8 0h0m6.3 0h0m6.2 0h0m18.8 0h0m-228.5 7.2h0m12.5 0h0m6.2 0h0m12.6 0h0m6.2 0h0m6.3 0h0m6.2 0h0m6.3 0h0m12.5 0h0m6.3 0h0m6.3 0h0m18.7 0h0m6.3 0h0m6.3 0h0m6.2 0h0m12.6 0h0m12.5 0h0m6.2 0h0m25.1 0h0m6.2 0h0m6.3 0h0m37.6 0h0m-234.8 7.1h0m6.2 0h0m12.5 0h0m6.3 0h0m6.3 0h0m6.2 0h0m6.3 0h0m6.3 0h0m6.2 0h0m12.5 0h0m6.3 0h0m6.3 0h0m6.2 0h0m25.1 0h0m6.2 0h0m37.6 0h0m6.3 0h0m31.3 0h0m31.3 0h0m-247.4 7.1h0m12.6 0h0m18.8 0h0m12.5 0h0m18.8 0h0m6.2 0h0m12.5 0h0m18.8 0h0m6.3 0h0m6.3 0h0m6.2 0h0m6.3 0h0m31.3 0h0m6.3 0h0m18.7 0h0m18.8 0h0m18.8 0h0m6.3 0h0m6.2 0h0m-222.3 7.1h0m6.3 0h0m6.3 0h0m6.2 0h0m6.3 0h0m12.5 0h0m6.3 0h0m18.8 0h0m6.2 0h0m12.5 0h0m6.3 0h0m6.3 0h0m6.2 0h0m25.1 0h0m25 0h0m6.3 0h0m6.2 0h0m12.6 0h0m6.2 0h0m6.3 0h0m18.8 0h0m6.2 0h0m25.1 0h0m-259.9 7.2h0m31.3 0h0m6.3 0h0m18.8 0h0m12.5 0h0m6.3 0h0m6.2 0h0m12.5 0h0m6.3 0h0m6.3 0h0m6.2 0h0m6.3 0h0m6.3 0h0m12.5 0h0m6.2 0h0m6.3 0h0m6.3 0h0m12.5 0h0m12.5 0h0m6.3 0h0m6.2 0h0m6.3 0h0m12.5 0h0m6.3 0h0m6.2 0h0m6.3 0h0m12.5 0h0m-247.3 7.1h0m6.2 0h0m6.3 0h0m6.3 0h0m18.8 0h0m6.2 0h0m12.5 0h0m6.3 0h0m6.3 0h0m12.5 0h0m6.3 0h0m12.5 0h0m12.5 0h0m31.3 0h0m6.3 0h0m6.2 0h0m18.8 0h0m6.3 0h0m6.2 0h0m6.3 0h0m6.3 0h0m6.2 0h0m6.3 0h0m6.3 0h0m6.2 0h0m6.3 0h0m-234.8 7.1h0m6.2 0h0m12.5 0h0m12.6 0h0m6.2 0h0m6.3 0h0m6.3 0h0m12.5 0h0m25 0h0m6.3 0h0m6.2 0h0m18.8 0h0m6.3 0h0m18.8 0h0m12.5 0h0m6.3 0h0m6.2 0h0m6.3 0h0m6.3 0h0m6.2 0h0m6.3 0h0m6.2 0h0m6.3 0h0m18.8 0h0m-222.3 7.1h0m6.2 0h0m6.3 0h0m6.3 0h0m12.5 0h0m18.8 0h0m6.2 0h0m6.3 0h0m18.8 0h0m25 0h0m6.3 0h0m12.5 0h0m12.5 0h0m6.3 0h0m6.3 0h0m6.2 0h0m6.3 0h0m12.5 0h0m6.3 0h0m6.2 0h0m6.3 0h0m12.5 0h0m12.6 0h0m-216.1 7.2h0m6.3 0h0m12.5 0h0m12.5 0h0m6.3 0h0m6.3 0h0m12.5 0h0m6.2 0h0m12.6 0h0m25 0h0m6.3 0h0m12.5 0h0m6.3 0h0m6.2 0h0m12.5 0h0m12.6 0h0m6.2 0h0m12.6 0h0m12.5 0h0m18.8 0h0m-222.3 7.1h0m6.2 0h0m6.3 0h0m18.8 0h0m6.2 0h0m6.3 0h0m6.3 0h0m6.2 0h0m6.3 0h0m6.2 0h0m6.3 0h0m6.3 0h0m6.2 0h0m6.3 0h0m6.3 0h0m12.5 0h0m6.2 0h0m6.3 0h0m6.3 0h0m31.3 0h0m6.2 0h0m-172.2 7.1h0m18.8 0h0m12.5 0h0m12.6 0h0m12.5 0h0m6.3 0h0m6.2 0h0m6.3 0h0m12.5 0h0m6.3 0h0m18.7 0h0m6.3 0h0m12.5 0h0m6.3 0h0m6.3 0h0m6.2 0h0m6.3 0h0m6.2 0h0m-153.4 7.2h0m25.1 0h0m6.2 0h0m25.1 0h0m18.8 0h0m6.2 0h0m6.3 0h0m6.3 0h0m6.2 0h0m6.3 0h0m6.2 0h0m18.8 0h0m6.3 0h0m6.2 0h0m-122.1 7.1h0m6.3 0h0m12.5 0h0m6.3 0h0m6.3 0h0m6.2 0h0m6.3 0h0m6.2 0h0m12.6 0h0m6.2 0h0m6.3 0h0m6.2 0h0m6.3 0h0m12.5 0h0m6.3 0h0m6.3 0h0m6.2 0h0m-147.1 7.1h0m18.7 0h0m6.3 0h0m12.5 0h0m25.1 0h0m18.8 0h0m6.2 0h0m6.3 0h0m6.3 0h0m6.2 0h0m6.3 0h0m6.2 0h0m12.6 0h0m-134.7 7.1h0m31.3 0h0m18.8 0h0m6.3 0h0m18.8 0h0m6.2 0h0m12.6 0h0m12.5 0h0m-109.6 7.2h0m12.5 0h0m6.3 0h0m6.2 0h0m18.8 0h0m12.6 0h0m6.2 0h0m6.3 0h0m6.2 0h0m6.3 0h0m6.3 0h0m6.2 0h0m6.3 0h0m6.3 0h0m12.5 0h0m6.2 0h0m-103.3 7.1h0m6.3 0h0m12.5 0h0m6.3 0h0m6.2 0h0m12.6 0h0m6.2 0h0m6.3 0h0m18.8 0h0m6.2 0h0m6.3 0h0m12.5 0h0m-122.1 7.1h0m12.5 0h0m6.3 0h0m18.8 0h0m6.2 0h0m6.3 0h0m6.3 0h0m6.2 0h0m12.5 0h0m6.3 0h0m6.3 0h0m-84.6 7.1h0m6.3 0h0m6.3 0h0m6.2 0h0m6.3 0h0m6.2 0h0m6.3 0h0m6.3 0h0m6.2 0h0m12.6 0h0m6.2 0h0m6.3 0h0m6.2 0h0m6.3 0h0m6.3 0h0m6.2 0h0m6.3 0h0m-103.3 7.2h0m6.2 0h0m6.3 0h0m12.5 0h0m6.3 0h0m6.2 0h0m6.3 0h0m12.5 0h0m12.5 0h0m6.3 0h0m6.3 0h0m6.2 0h0m6.3 0h0m6.3 0h0m-97.1 7.1h0m6.3 0h0m6.2 0h0m6.3 0h0m6.2 0h0m12.6 0h0m6.2 0h0m6.3 0h0m6.3 0h0m6.2 0h0m18.8 0h0m6.3 0h0m6.2 0h0m6.3 0h0m-84.6 7.1h0m12.6 0h0m6.2 0h0m18.8 0h0m12.5 0h0m6.3 0h0m12.5 0h0m6.3 0h0m6.3 0h0m6.2 0h0m-84.5 7.1h0m6.2 0h0m12.6 0h0m6.2 0h0m12.6 0h0m12.5 0h0m18.8 0h0m-72.1 7.2h0m12.6 0h0m6.2 0h0m6.3 0h0m6.3 0h0m6.2 0h0m12.5 0h0m12.6 0h0m6.2 0h0m6.3 0h0m-72 7.1h0m12.5 0h0m6.3 0h0m18.8 0h0m12.5 0h0m6.2 0h0m6.3 0h0m6.3 0h0m18.7 0h0m-78.2 7.1h0m12.5 0h0m6.3 0h0m18.7 0h0m6.3 0h0m6.3 0h0m6.2 0h0m12.6 0h0m12.5 0h0m-90.8 7.1h0m12.5 0h0m12.5 0h0m6.3 0h0m6.3 0h0m6.2 0h0m6.3 0h0m12.5 0h0m6.3 0h0m18.7 0h0m-90.8 7.2h0m6.3 0h0m6.3 0h0m6.2 0h0m12.6 0h0m6.2 0h0m6.3 0h0m12.5 0h0m6.3 0h0m6.2 0h0m-59.5 7.1h0m12.6 0h0m12.5 0h0m6.3 0h0m6.2 0h0m18.8 0h0m6.3 0h0m12.5 0h0m6.2 0h0m6.3 0h0" stroke="#7AA322"/><path d="M1453.6 864.6h0m-43.8 14.3h0m-34.5 7.1h0m37.6 0h0m6.2 0h0m31.4 0h0m6.2 0h0m-78.3 7.1h0m37.6 0h0m-28.2 7.2h0m25.1 0h0m25 0h0m9.4 7.1h0m-109.6 7.1h0m62.7 0h0m-84.6 7.1h0m137.8 0h0m3.1 7.2h0m-206.6 14.2h0m131.5 0h0m6.2 0h0m-140.9 7.1h0m6.3 0h0m31.3 0h0m68.9 0h0m37.6 0h0m-147.2 7.2h0m18.8 0h0m68.9 0h0m31.3 0h0m68.9 0h0m-97.1 7.1h0m81.4 0h0m-191 7.1h0m6.3 0h0m25 0h0m87.7 0h0m-9.4 7.1h0m100.2 0h0m-234.8 7.2h0m18.8 0h0m18.8 0h0m6.2 0h0m37.6 0h0m72 7.1h0m-109.6 7.1h0m50.1 0h0m6.3 0h0m-72 7.1h0m50.1 0h0m112.7 0h0m-128.4 7.2h0m25 0h0m-84.5 7.1h0m-21.9 7.1h0m93.9 0h0m6.3 0h0m18.8 0h0m-128.4 7.2h0m25 0h0m6.3 0h0m25.1 0h0m75.1 0h0m6.3 0h0m-134.7 7.1h0m6.3 0h0m18.8 0h0m-15.7 7.1h0m6.3 0h0m47 7.1h0m50 0h0m-109.5 7.2h0m43.8 0h0m34.4 7.1h0m31.3 0h0m-90.8 7.1h0m6.3 0h0m37.6 0h0m43.8 0h0m-87.7 14.3h0m15.7 7.1h0m-28.2 7.1h0m43.9 0h0m-15.7 7.1h0m-6.3 14.3h0m37.6 0h0m-28.2 7.1h0m40.7 7.1h0m25.1 0h0m-59.5 7.2h0m56.4 0h0m-78.3 7.1h0" stroke="#35AECB"/><path d="M1463 857.5h0m-3.1 7.1h0m-40.8 7.2h0m-25 14.2h0m37.6 0h0m-56.4 14.3h0m-25 14.2h0m9.4 21.4h0m3.1 7.1h0m65.7 7.1h0m-34.4 21.4h0m62.6 0h0m-244.2 14.3h0m97.1 7.1h0m12.5 0h0m-109.6 7.1h0m-31.3 14.3h0m147.1 7.1h0m-115.8 7.1h0m-21.9 7.2h0m-3.1 7.1h0m112.7 0h0m-119 14.2h0m6.3 0h0m75.1 0h0m-75.1 14.3h0m43.8 0h0m34.4 7.1h0m-37.5 14.3h0m12.5 0h0m15.6 7.1h0m0 14.2h0m28.2 7.2h0m-12.5 28.5h0m12.5 0h0" stroke="#E86F69"/></g><circle cx="1508.8" cy="993.7" r="3.1" fill="#E86F69"/><circle cx="1508.8" cy="1004.7" r="3.1" fill="#7AA322"/><circle cx="1508.8" cy="1015.6" r="3.1" fill="#35AECB"/><circle cx="1508.8" cy="1026.5" r="3.1" fill="#E9E9EC"/></g><g id="tF"><text x="1293.5" y="837.7" font-size="9.9" text-anchor="start" fill="#333">IGF1_IGF1R</text><text x="1519.6" y="996.5" font-size="7.9" text-anchor="start" fill="#333">Igf1</text><text x="1519.6" y="1007.4" font-size="7.9" text-anchor="start" fill="#333">Igf1r</text><text x="1519.6" y="1018.4" font-size="7.9" text-anchor="start" fill="#333">Both</text><text x="1519.6" y="1029.3" font-size="7.9" text-anchor="start" fill="#333">None</text></g></defs><use href="#pF" class="im"/><use href="#pF" opacity=".5"/><use href="#tF" class="im" opacity=".6"/><use href="#tF" opacity=".8"/></svg></figure>
</section>
<footer class="t" aria-label="文章来源：Lucas, C.G., et al., Spatial genomic, biochemical and cellular mechanisms underlying meningioma heterogeneity and evolution. Nat Genet, 2024. 56(6): p. 1121-1133."><span class="sr">文章来源：Lucas, C.G., et al., Spatial genomic, biochemical and cellular mechanisms underlying meningioma heterogeneity and evolution. Nat Genet, 2024. 56(6): p. 1121-1133.</span><svg class="abs" style="top:1180px" width="1920" height="60" viewBox="0 0 1920 60" aria-hidden="true"><text x="48" y="37.4" font-size="22" fill="#404040" textLength="1840" lengthAdjust="spacingAndGlyphs" style="font-family:'Liberation Sans','Noto Sans CJK SC',sans-serif">文章来源：Lucas, C.G., et al., Spatial genomic, biochemical and cellular mechanisms underlying meningioma heterogeneity and evolution. Nat Genet, 2024. 56(6): p. 1121-1133.</text></svg></footer>
</main>
</body></html>
